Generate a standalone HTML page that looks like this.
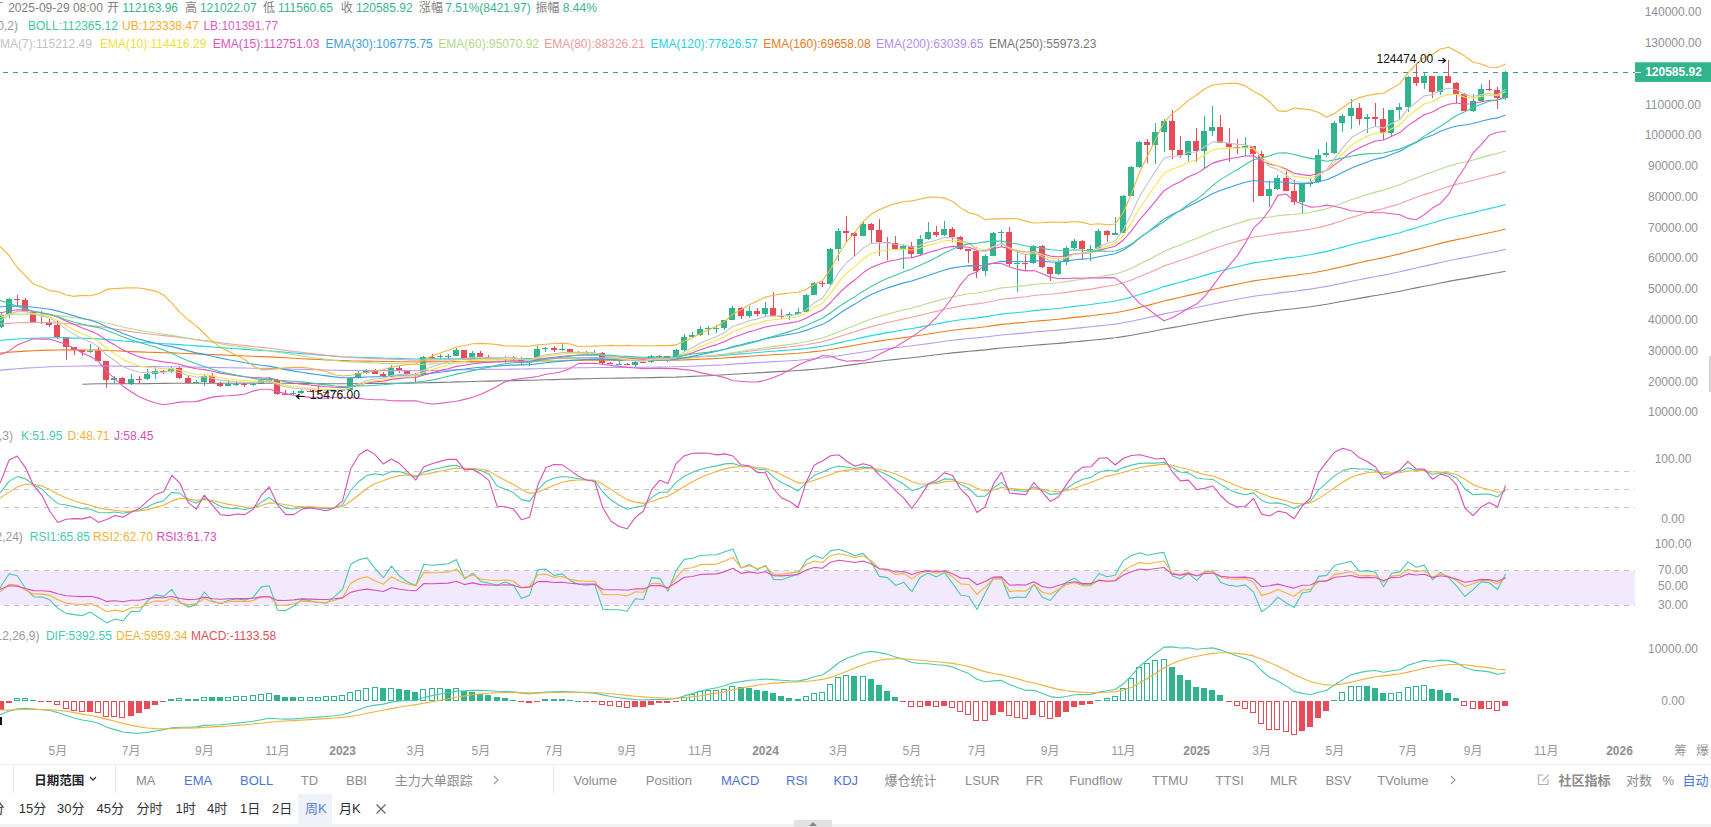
<!DOCTYPE html>
<html><head><meta charset="utf-8"><title>chart</title>
<style>
html,body{margin:0;padding:0;background:#fff;}
body{width:1711px;height:827px;overflow:hidden;position:relative;font-family:"Liberation Sans","Noto Sans CJK SC",sans-serif;}
svg text{font-family:"Liberation Sans","Noto Sans CJK SC",sans-serif;}
span{position:absolute;white-space:nowrap;font-size:12px;line-height:14px;}
.bar{position:absolute;}
</style></head><body>
<svg width="1711" height="827" viewBox="0 0 1711 827" style="position:absolute;left:0;top:0">
<defs><clipPath id="cm"><rect x="0" y="0" width="1636" height="428"/></clipPath><clipPath id="ck"><rect x="0" y="440" width="1636" height="92"/></clipPath><clipPath id="cr"><rect x="0" y="540" width="1636" height="92"/></clipPath><clipPath id="cd"><rect x="0" y="640" width="1636" height="95"/></clipPath></defs>
<g clip-path="url(#cm)">
<rect x="1" y="313" width="1" height="15" fill="#31b48d"/>
<rect x="-2" y="315" width="6" height="12" fill="#31b48d"/>
<rect x="9" y="298" width="1" height="20" fill="#31b48d"/>
<rect x="6" y="299" width="6" height="16" fill="#31b48d"/>
<rect x="17" y="295" width="1" height="11" fill="#e84b58"/>
<rect x="14" y="299" width="6" height="1" fill="#e84b58"/>
<rect x="25" y="298" width="1" height="14" fill="#e84b58"/>
<rect x="22" y="300" width="6" height="12" fill="#e84b58"/>
<rect x="33" y="311" width="1" height="11" fill="#e84b58"/>
<rect x="30" y="312" width="6" height="10" fill="#e84b58"/>
<rect x="41" y="311" width="1" height="13" fill="#e84b58"/>
<rect x="38" y="322" width="6" height="1" fill="#e84b58"/>
<rect x="49" y="319" width="1" height="8" fill="#e84b58"/>
<rect x="46" y="322" width="6" height="3" fill="#e84b58"/>
<rect x="57" y="320" width="1" height="19" fill="#e84b58"/>
<rect x="54" y="325" width="6" height="12" fill="#e84b58"/>
<rect x="66" y="337" width="1" height="23" fill="#e84b58"/>
<rect x="63" y="337" width="6" height="10" fill="#e84b58"/>
<rect x="74" y="347" width="1" height="8" fill="#e84b58"/>
<rect x="71" y="347" width="6" height="3" fill="#e84b58"/>
<rect x="82" y="350" width="1" height="6" fill="#e84b58"/>
<rect x="79" y="350" width="6" height="2" fill="#e84b58"/>
<rect x="90" y="344" width="1" height="9" fill="#31b48d"/>
<rect x="87" y="351" width="6" height="1" fill="#31b48d"/>
<rect x="98" y="346" width="1" height="15" fill="#e84b58"/>
<rect x="95" y="351" width="6" height="10" fill="#e84b58"/>
<rect x="106" y="361" width="1" height="27" fill="#e84b58"/>
<rect x="103" y="361" width="6" height="19" fill="#e84b58"/>
<rect x="114" y="376" width="1" height="7" fill="#31b48d"/>
<rect x="111" y="378" width="6" height="2" fill="#31b48d"/>
<rect x="122" y="377" width="1" height="7" fill="#e84b58"/>
<rect x="119" y="378" width="6" height="6" fill="#e84b58"/>
<rect x="131" y="374" width="1" height="11" fill="#31b48d"/>
<rect x="128" y="379" width="6" height="5" fill="#31b48d"/>
<rect x="139" y="376" width="1" height="8" fill="#e84b58"/>
<rect x="136" y="379" width="6" height="1" fill="#e84b58"/>
<rect x="147" y="369" width="1" height="11" fill="#31b48d"/>
<rect x="144" y="374" width="6" height="5" fill="#31b48d"/>
<rect x="155" y="367" width="1" height="12" fill="#31b48d"/>
<rect x="152" y="371" width="6" height="3" fill="#31b48d"/>
<rect x="163" y="370" width="1" height="4" fill="#e84b58"/>
<rect x="160" y="371" width="6" height="1" fill="#e84b58"/>
<rect x="171" y="367" width="1" height="6" fill="#31b48d"/>
<rect x="168" y="368" width="6" height="4" fill="#31b48d"/>
<rect x="179" y="367" width="1" height="12" fill="#e84b58"/>
<rect x="176" y="368" width="6" height="10" fill="#e84b58"/>
<rect x="188" y="376" width="1" height="7" fill="#e84b58"/>
<rect x="185" y="378" width="6" height="5" fill="#e84b58"/>
<rect x="196" y="380" width="1" height="3" fill="#31b48d"/>
<rect x="193" y="382" width="6" height="1" fill="#31b48d"/>
<rect x="204" y="375" width="1" height="11" fill="#31b48d"/>
<rect x="201" y="376" width="6" height="6" fill="#31b48d"/>
<rect x="212" y="373" width="1" height="10" fill="#e84b58"/>
<rect x="209" y="376" width="6" height="7" fill="#e84b58"/>
<rect x="220" y="382" width="1" height="5" fill="#e84b58"/>
<rect x="217" y="383" width="6" height="3" fill="#e84b58"/>
<rect x="228" y="380" width="1" height="6" fill="#31b48d"/>
<rect x="225" y="384" width="6" height="2" fill="#31b48d"/>
<rect x="236" y="381" width="1" height="5" fill="#31b48d"/>
<rect x="233" y="384" width="6" height="1" fill="#31b48d"/>
<rect x="244" y="383" width="1" height="4" fill="#e84b58"/>
<rect x="241" y="384" width="6" height="1" fill="#e84b58"/>
<rect x="253" y="383" width="1" height="3" fill="#31b48d"/>
<rect x="250" y="384" width="6" height="1" fill="#31b48d"/>
<rect x="261" y="378" width="1" height="6" fill="#31b48d"/>
<rect x="258" y="380" width="6" height="4" fill="#31b48d"/>
<rect x="269" y="377" width="1" height="4" fill="#31b48d"/>
<rect x="266" y="380" width="6" height="1" fill="#31b48d"/>
<rect x="277" y="379" width="1" height="16" fill="#e84b58"/>
<rect x="274" y="380" width="6" height="14" fill="#e84b58"/>
<rect x="285" y="390" width="1" height="5" fill="#e84b58"/>
<rect x="282" y="394" width="6" height="1" fill="#e84b58"/>
<rect x="293" y="391" width="1" height="4" fill="#31b48d"/>
<rect x="290" y="393" width="6" height="1" fill="#31b48d"/>
<rect x="301" y="390" width="1" height="4" fill="#31b48d"/>
<rect x="298" y="391" width="6" height="2" fill="#31b48d"/>
<rect x="310" y="390" width="1" height="2" fill="#e84b58"/>
<rect x="307" y="391" width="6" height="1" fill="#e84b58"/>
<rect x="318" y="386" width="1" height="7" fill="#e84b58"/>
<rect x="315" y="391" width="6" height="1" fill="#e84b58"/>
<rect x="326" y="391" width="1" height="3" fill="#e84b58"/>
<rect x="323" y="392" width="6" height="1" fill="#e84b58"/>
<rect x="334" y="391" width="1" height="3" fill="#31b48d"/>
<rect x="331" y="391" width="6" height="1" fill="#31b48d"/>
<rect x="342" y="389" width="1" height="3" fill="#31b48d"/>
<rect x="339" y="390" width="6" height="1" fill="#31b48d"/>
<rect x="350" y="377" width="1" height="13" fill="#31b48d"/>
<rect x="347" y="378" width="6" height="12" fill="#31b48d"/>
<rect x="358" y="371" width="1" height="8" fill="#31b48d"/>
<rect x="355" y="373" width="6" height="5" fill="#31b48d"/>
<rect x="366" y="369" width="1" height="5" fill="#31b48d"/>
<rect x="363" y="370" width="6" height="3" fill="#31b48d"/>
<rect x="375" y="369" width="1" height="5" fill="#e84b58"/>
<rect x="372" y="370" width="6" height="4" fill="#e84b58"/>
<rect x="383" y="372" width="1" height="5" fill="#e84b58"/>
<rect x="380" y="374" width="6" height="2" fill="#e84b58"/>
<rect x="391" y="365" width="1" height="12" fill="#31b48d"/>
<rect x="388" y="368" width="6" height="8" fill="#31b48d"/>
<rect x="399" y="366" width="1" height="7" fill="#e84b58"/>
<rect x="396" y="368" width="6" height="3" fill="#e84b58"/>
<rect x="407" y="370" width="1" height="4" fill="#e84b58"/>
<rect x="404" y="371" width="6" height="3" fill="#e84b58"/>
<rect x="415" y="373" width="1" height="9" fill="#e84b58"/>
<rect x="412" y="374" width="6" height="1" fill="#e84b58"/>
<rect x="423" y="356" width="1" height="19" fill="#31b48d"/>
<rect x="420" y="357" width="6" height="18" fill="#31b48d"/>
<rect x="432" y="354" width="1" height="5" fill="#e84b58"/>
<rect x="429" y="357" width="6" height="1" fill="#e84b58"/>
<rect x="440" y="354" width="1" height="5" fill="#31b48d"/>
<rect x="437" y="356" width="6" height="1" fill="#31b48d"/>
<rect x="448" y="354" width="1" height="6" fill="#31b48d"/>
<rect x="445" y="356" width="6" height="1" fill="#31b48d"/>
<rect x="456" y="348" width="1" height="8" fill="#31b48d"/>
<rect x="453" y="350" width="6" height="6" fill="#31b48d"/>
<rect x="464" y="350" width="1" height="8" fill="#e84b58"/>
<rect x="461" y="350" width="6" height="8" fill="#e84b58"/>
<rect x="472" y="351" width="1" height="7" fill="#31b48d"/>
<rect x="469" y="353" width="6" height="5" fill="#31b48d"/>
<rect x="480" y="351" width="1" height="6" fill="#e84b58"/>
<rect x="477" y="353" width="6" height="4" fill="#e84b58"/>
<rect x="488" y="355" width="1" height="4" fill="#e84b58"/>
<rect x="485" y="357" width="6" height="1" fill="#e84b58"/>
<rect x="497" y="357" width="1" height="3" fill="#e84b58"/>
<rect x="494" y="358" width="6" height="1" fill="#e84b58"/>
<rect x="505" y="356" width="1" height="7" fill="#31b48d"/>
<rect x="502" y="357" width="6" height="1" fill="#31b48d"/>
<rect x="513" y="356" width="1" height="4" fill="#e84b58"/>
<rect x="510" y="357" width="6" height="1" fill="#e84b58"/>
<rect x="521" y="357" width="1" height="8" fill="#e84b58"/>
<rect x="518" y="358" width="6" height="5" fill="#e84b58"/>
<rect x="529" y="361" width="1" height="5" fill="#31b48d"/>
<rect x="526" y="362" width="6" height="1" fill="#31b48d"/>
<rect x="537" y="346" width="1" height="16" fill="#31b48d"/>
<rect x="534" y="349" width="6" height="13" fill="#31b48d"/>
<rect x="545" y="347" width="1" height="5" fill="#31b48d"/>
<rect x="542" y="348" width="6" height="1" fill="#31b48d"/>
<rect x="554" y="346" width="1" height="6" fill="#e84b58"/>
<rect x="551" y="348" width="6" height="2" fill="#e84b58"/>
<rect x="562" y="344" width="1" height="7" fill="#31b48d"/>
<rect x="559" y="349" width="6" height="1" fill="#31b48d"/>
<rect x="570" y="349" width="1" height="4" fill="#e84b58"/>
<rect x="567" y="349" width="6" height="3" fill="#e84b58"/>
<rect x="578" y="351" width="1" height="3" fill="#e84b58"/>
<rect x="575" y="352" width="6" height="1" fill="#e84b58"/>
<rect x="586" y="351" width="1" height="2" fill="#e84b58"/>
<rect x="583" y="353" width="6" height="1" fill="#e84b58"/>
<rect x="594" y="350" width="1" height="4" fill="#31b48d"/>
<rect x="591" y="353" width="6" height="1" fill="#31b48d"/>
<rect x="602" y="352" width="1" height="13" fill="#e84b58"/>
<rect x="599" y="353" width="6" height="10" fill="#e84b58"/>
<rect x="610" y="362" width="1" height="2" fill="#e84b58"/>
<rect x="607" y="363" width="6" height="1" fill="#e84b58"/>
<rect x="619" y="357" width="1" height="8" fill="#31b48d"/>
<rect x="616" y="364" width="6" height="1" fill="#31b48d"/>
<rect x="627" y="363" width="1" height="2" fill="#e84b58"/>
<rect x="624" y="364" width="6" height="1" fill="#e84b58"/>
<rect x="635" y="361" width="1" height="6" fill="#31b48d"/>
<rect x="632" y="362" width="6" height="3" fill="#31b48d"/>
<rect x="643" y="361" width="1" height="2" fill="#e84b58"/>
<rect x="640" y="362" width="6" height="1" fill="#e84b58"/>
<rect x="651" y="355" width="1" height="8" fill="#31b48d"/>
<rect x="648" y="356" width="6" height="6" fill="#31b48d"/>
<rect x="659" y="355" width="1" height="2" fill="#e84b58"/>
<rect x="656" y="356" width="6" height="1" fill="#e84b58"/>
<rect x="667" y="356" width="1" height="6" fill="#e84b58"/>
<rect x="664" y="356" width="6" height="4" fill="#e84b58"/>
<rect x="676" y="349" width="1" height="11" fill="#31b48d"/>
<rect x="673" y="350" width="6" height="10" fill="#31b48d"/>
<rect x="684" y="334" width="1" height="17" fill="#31b48d"/>
<rect x="681" y="337" width="6" height="13" fill="#31b48d"/>
<rect x="692" y="332" width="1" height="5" fill="#31b48d"/>
<rect x="689" y="335" width="6" height="2" fill="#31b48d"/>
<rect x="700" y="326" width="1" height="10" fill="#31b48d"/>
<rect x="697" y="329" width="6" height="6" fill="#31b48d"/>
<rect x="708" y="326" width="1" height="9" fill="#31b48d"/>
<rect x="705" y="328" width="6" height="1" fill="#31b48d"/>
<rect x="716" y="325" width="1" height="8" fill="#31b48d"/>
<rect x="713" y="328" width="6" height="1" fill="#31b48d"/>
<rect x="724" y="320" width="1" height="10" fill="#31b48d"/>
<rect x="721" y="320" width="6" height="8" fill="#31b48d"/>
<rect x="732" y="306" width="1" height="14" fill="#31b48d"/>
<rect x="729" y="308" width="6" height="12" fill="#31b48d"/>
<rect x="741" y="307" width="1" height="12" fill="#e84b58"/>
<rect x="738" y="308" width="6" height="8" fill="#e84b58"/>
<rect x="749" y="306" width="1" height="12" fill="#31b48d"/>
<rect x="746" y="311" width="6" height="5" fill="#31b48d"/>
<rect x="757" y="308" width="1" height="8" fill="#e84b58"/>
<rect x="754" y="311" width="6" height="3" fill="#e84b58"/>
<rect x="765" y="302" width="1" height="15" fill="#31b48d"/>
<rect x="762" y="308" width="6" height="6" fill="#31b48d"/>
<rect x="773" y="292" width="1" height="24" fill="#e84b58"/>
<rect x="770" y="308" width="6" height="8" fill="#e84b58"/>
<rect x="781" y="309" width="1" height="10" fill="#e84b58"/>
<rect x="778" y="316" width="6" height="1" fill="#e84b58"/>
<rect x="789" y="312" width="1" height="8" fill="#31b48d"/>
<rect x="786" y="314" width="6" height="2" fill="#31b48d"/>
<rect x="798" y="308" width="1" height="6" fill="#31b48d"/>
<rect x="795" y="312" width="6" height="2" fill="#31b48d"/>
<rect x="806" y="294" width="1" height="18" fill="#31b48d"/>
<rect x="803" y="295" width="6" height="17" fill="#31b48d"/>
<rect x="814" y="282" width="1" height="13" fill="#31b48d"/>
<rect x="811" y="283" width="6" height="12" fill="#31b48d"/>
<rect x="822" y="280" width="1" height="7" fill="#e84b58"/>
<rect x="819" y="283" width="6" height="1" fill="#e84b58"/>
<rect x="830" y="248" width="1" height="37" fill="#31b48d"/>
<rect x="827" y="249" width="6" height="35" fill="#31b48d"/>
<rect x="838" y="228" width="1" height="33" fill="#31b48d"/>
<rect x="835" y="231" width="6" height="18" fill="#31b48d"/>
<rect x="846" y="216" width="1" height="26" fill="#e84b58"/>
<rect x="843" y="231" width="6" height="2" fill="#e84b58"/>
<rect x="854" y="232" width="1" height="24" fill="#e84b58"/>
<rect x="851" y="233" width="6" height="3" fill="#e84b58"/>
<rect x="863" y="222" width="1" height="14" fill="#31b48d"/>
<rect x="860" y="224" width="6" height="12" fill="#31b48d"/>
<rect x="871" y="223" width="1" height="20" fill="#e84b58"/>
<rect x="868" y="224" width="6" height="6" fill="#e84b58"/>
<rect x="879" y="219" width="1" height="37" fill="#e84b58"/>
<rect x="876" y="230" width="6" height="12" fill="#e84b58"/>
<rect x="887" y="237" width="1" height="23" fill="#e84b58"/>
<rect x="884" y="242" width="6" height="1" fill="#e84b58"/>
<rect x="895" y="236" width="1" height="14" fill="#e84b58"/>
<rect x="892" y="243" width="6" height="6" fill="#e84b58"/>
<rect x="903" y="244" width="1" height="25" fill="#31b48d"/>
<rect x="900" y="246" width="6" height="3" fill="#31b48d"/>
<rect x="911" y="242" width="1" height="16" fill="#e84b58"/>
<rect x="908" y="246" width="6" height="8" fill="#e84b58"/>
<rect x="920" y="235" width="1" height="20" fill="#31b48d"/>
<rect x="917" y="239" width="6" height="15" fill="#31b48d"/>
<rect x="928" y="222" width="1" height="18" fill="#31b48d"/>
<rect x="925" y="232" width="6" height="7" fill="#31b48d"/>
<rect x="936" y="226" width="1" height="11" fill="#e84b58"/>
<rect x="933" y="232" width="6" height="3" fill="#e84b58"/>
<rect x="944" y="221" width="1" height="15" fill="#31b48d"/>
<rect x="941" y="229" width="6" height="6" fill="#31b48d"/>
<rect x="952" y="227" width="1" height="15" fill="#e84b58"/>
<rect x="949" y="229" width="6" height="8" fill="#e84b58"/>
<rect x="960" y="236" width="1" height="14" fill="#e84b58"/>
<rect x="957" y="237" width="6" height="12" fill="#e84b58"/>
<rect x="968" y="249" width="1" height="14" fill="#e84b58"/>
<rect x="965" y="249" width="6" height="2" fill="#e84b58"/>
<rect x="976" y="247" width="1" height="31" fill="#e84b58"/>
<rect x="973" y="251" width="6" height="20" fill="#e84b58"/>
<rect x="985" y="254" width="1" height="22" fill="#31b48d"/>
<rect x="982" y="256" width="6" height="15" fill="#31b48d"/>
<rect x="993" y="232" width="1" height="24" fill="#31b48d"/>
<rect x="990" y="233" width="6" height="23" fill="#31b48d"/>
<rect x="1001" y="230" width="1" height="17" fill="#31b48d"/>
<rect x="998" y="232" width="6" height="1" fill="#31b48d"/>
<rect x="1009" y="227" width="1" height="39" fill="#e84b58"/>
<rect x="1006" y="232" width="6" height="32" fill="#e84b58"/>
<rect x="1017" y="251" width="1" height="41" fill="#31b48d"/>
<rect x="1014" y="263" width="6" height="1" fill="#31b48d"/>
<rect x="1025" y="254" width="1" height="17" fill="#e84b58"/>
<rect x="1022" y="263" width="6" height="1" fill="#e84b58"/>
<rect x="1033" y="245" width="1" height="19" fill="#31b48d"/>
<rect x="1030" y="246" width="6" height="17" fill="#31b48d"/>
<rect x="1042" y="245" width="1" height="23" fill="#e84b58"/>
<rect x="1039" y="246" width="6" height="21" fill="#e84b58"/>
<rect x="1050" y="267" width="1" height="14" fill="#e84b58"/>
<rect x="1047" y="267" width="6" height="7" fill="#e84b58"/>
<rect x="1058" y="258" width="1" height="17" fill="#31b48d"/>
<rect x="1055" y="262" width="6" height="12" fill="#31b48d"/>
<rect x="1066" y="246" width="1" height="19" fill="#31b48d"/>
<rect x="1063" y="248" width="6" height="14" fill="#31b48d"/>
<rect x="1074" y="239" width="1" height="10" fill="#31b48d"/>
<rect x="1071" y="241" width="6" height="7" fill="#31b48d"/>
<rect x="1082" y="240" width="1" height="19" fill="#e84b58"/>
<rect x="1079" y="241" width="6" height="8" fill="#e84b58"/>
<rect x="1090" y="245" width="1" height="16" fill="#31b48d"/>
<rect x="1087" y="249" width="6" height="1" fill="#31b48d"/>
<rect x="1098" y="229" width="1" height="21" fill="#31b48d"/>
<rect x="1095" y="231" width="6" height="18" fill="#31b48d"/>
<rect x="1107" y="230" width="1" height="12" fill="#e84b58"/>
<rect x="1104" y="231" width="6" height="4" fill="#e84b58"/>
<rect x="1115" y="217" width="1" height="18" fill="#31b48d"/>
<rect x="1112" y="233" width="6" height="2" fill="#31b48d"/>
<rect x="1123" y="195" width="1" height="38" fill="#31b48d"/>
<rect x="1120" y="196" width="6" height="37" fill="#31b48d"/>
<rect x="1131" y="166" width="1" height="30" fill="#31b48d"/>
<rect x="1128" y="167" width="6" height="29" fill="#31b48d"/>
<rect x="1139" y="141" width="1" height="27" fill="#31b48d"/>
<rect x="1136" y="142" width="6" height="25" fill="#31b48d"/>
<rect x="1147" y="139" width="1" height="24" fill="#e84b58"/>
<rect x="1144" y="142" width="6" height="3" fill="#e84b58"/>
<rect x="1155" y="123" width="1" height="41" fill="#31b48d"/>
<rect x="1152" y="132" width="6" height="13" fill="#31b48d"/>
<rect x="1164" y="119" width="1" height="33" fill="#31b48d"/>
<rect x="1161" y="121" width="6" height="11" fill="#31b48d"/>
<rect x="1172" y="110" width="1" height="49" fill="#e84b58"/>
<rect x="1169" y="121" width="6" height="29" fill="#e84b58"/>
<rect x="1180" y="136" width="1" height="22" fill="#e84b58"/>
<rect x="1177" y="150" width="6" height="5" fill="#e84b58"/>
<rect x="1188" y="141" width="1" height="20" fill="#31b48d"/>
<rect x="1185" y="141" width="6" height="14" fill="#31b48d"/>
<rect x="1196" y="128" width="1" height="34" fill="#e84b58"/>
<rect x="1193" y="141" width="6" height="10" fill="#e84b58"/>
<rect x="1204" y="116" width="1" height="52" fill="#31b48d"/>
<rect x="1201" y="131" width="6" height="20" fill="#31b48d"/>
<rect x="1212" y="106" width="1" height="30" fill="#31b48d"/>
<rect x="1209" y="127" width="6" height="4" fill="#31b48d"/>
<rect x="1220" y="115" width="1" height="28" fill="#e84b58"/>
<rect x="1217" y="127" width="6" height="16" fill="#e84b58"/>
<rect x="1229" y="128" width="1" height="34" fill="#e84b58"/>
<rect x="1226" y="143" width="6" height="4" fill="#e84b58"/>
<rect x="1237" y="139" width="1" height="15" fill="#e84b58"/>
<rect x="1234" y="147" width="6" height="1" fill="#e84b58"/>
<rect x="1245" y="137" width="1" height="19" fill="#31b48d"/>
<rect x="1242" y="146" width="6" height="2" fill="#31b48d"/>
<rect x="1253" y="146" width="1" height="56" fill="#e84b58"/>
<rect x="1250" y="146" width="6" height="8" fill="#e84b58"/>
<rect x="1261" y="151" width="1" height="45" fill="#e84b58"/>
<rect x="1258" y="154" width="6" height="42" fill="#e84b58"/>
<rect x="1269" y="181" width="1" height="26" fill="#31b48d"/>
<rect x="1266" y="189" width="6" height="7" fill="#31b48d"/>
<rect x="1277" y="175" width="1" height="15" fill="#31b48d"/>
<rect x="1274" y="178" width="6" height="11" fill="#31b48d"/>
<rect x="1286" y="171" width="1" height="20" fill="#e84b58"/>
<rect x="1283" y="178" width="6" height="13" fill="#e84b58"/>
<rect x="1294" y="180" width="1" height="25" fill="#e84b58"/>
<rect x="1291" y="191" width="6" height="11" fill="#e84b58"/>
<rect x="1302" y="183" width="1" height="30" fill="#31b48d"/>
<rect x="1299" y="184" width="6" height="18" fill="#31b48d"/>
<rect x="1310" y="178" width="1" height="9" fill="#31b48d"/>
<rect x="1307" y="182" width="6" height="2" fill="#31b48d"/>
<rect x="1318" y="149" width="1" height="34" fill="#31b48d"/>
<rect x="1315" y="155" width="6" height="27" fill="#31b48d"/>
<rect x="1326" y="142" width="1" height="15" fill="#31b48d"/>
<rect x="1323" y="153" width="6" height="2" fill="#31b48d"/>
<rect x="1334" y="121" width="1" height="33" fill="#31b48d"/>
<rect x="1331" y="123" width="6" height="30" fill="#31b48d"/>
<rect x="1342" y="114" width="1" height="18" fill="#31b48d"/>
<rect x="1339" y="116" width="6" height="7" fill="#31b48d"/>
<rect x="1351" y="99" width="1" height="30" fill="#31b48d"/>
<rect x="1348" y="108" width="6" height="8" fill="#31b48d"/>
<rect x="1359" y="103" width="1" height="22" fill="#e84b58"/>
<rect x="1356" y="108" width="6" height="11" fill="#e84b58"/>
<rect x="1367" y="114" width="1" height="19" fill="#31b48d"/>
<rect x="1364" y="117" width="6" height="2" fill="#31b48d"/>
<rect x="1375" y="103" width="1" height="23" fill="#e84b58"/>
<rect x="1372" y="117" width="6" height="2" fill="#e84b58"/>
<rect x="1383" y="108" width="1" height="32" fill="#e84b58"/>
<rect x="1380" y="119" width="6" height="14" fill="#e84b58"/>
<rect x="1391" y="110" width="1" height="26" fill="#31b48d"/>
<rect x="1388" y="110" width="6" height="23" fill="#31b48d"/>
<rect x="1399" y="103" width="1" height="17" fill="#31b48d"/>
<rect x="1396" y="107" width="6" height="3" fill="#31b48d"/>
<rect x="1408" y="76" width="1" height="36" fill="#31b48d"/>
<rect x="1405" y="77" width="6" height="30" fill="#31b48d"/>
<rect x="1416" y="63" width="1" height="23" fill="#e84b58"/>
<rect x="1413" y="77" width="6" height="6" fill="#e84b58"/>
<rect x="1424" y="72" width="1" height="17" fill="#31b48d"/>
<rect x="1421" y="76" width="6" height="7" fill="#31b48d"/>
<rect x="1432" y="76" width="1" height="22" fill="#e84b58"/>
<rect x="1429" y="76" width="6" height="16" fill="#e84b58"/>
<rect x="1440" y="76" width="1" height="19" fill="#31b48d"/>
<rect x="1437" y="76" width="6" height="16" fill="#31b48d"/>
<rect x="1448" y="60" width="1" height="23" fill="#e84b58"/>
<rect x="1445" y="76" width="6" height="7" fill="#e84b58"/>
<rect x="1456" y="82" width="1" height="21" fill="#e84b58"/>
<rect x="1453" y="83" width="6" height="11" fill="#e84b58"/>
<rect x="1464" y="93" width="1" height="18" fill="#e84b58"/>
<rect x="1461" y="94" width="6" height="17" fill="#e84b58"/>
<rect x="1473" y="94" width="1" height="18" fill="#31b48d"/>
<rect x="1470" y="101" width="6" height="10" fill="#31b48d"/>
<rect x="1481" y="84" width="1" height="18" fill="#31b48d"/>
<rect x="1478" y="89" width="6" height="12" fill="#31b48d"/>
<rect x="1489" y="80" width="1" height="11" fill="#e84b58"/>
<rect x="1486" y="89" width="6" height="1" fill="#e84b58"/>
<rect x="1497" y="87" width="1" height="22" fill="#e84b58"/>
<rect x="1494" y="90" width="6" height="8" fill="#e84b58"/>
<rect x="1505" y="71" width="1" height="29" fill="#31b48d"/>
<rect x="1502" y="72" width="6" height="26" fill="#31b48d"/>
</g>
<g clip-path="url(#cm)" fill="none" stroke-width="1.1" stroke-linejoin="round">
<polyline stroke="#7d7d7d" points="82.3,384.3 90.5,384.0 98.6,383.8 106.7,383.8 114.9,383.7 123.0,383.7 131.1,383.7 139.3,383.7 147.4,383.6 155.5,383.5 163.7,383.4 171.8,383.3 179.9,383.2 188.1,383.2 196.2,383.2 204.3,383.2 212.5,383.2 220.6,383.2 228.7,383.2 236.9,383.2 245.0,383.2 253.1,383.2 261.3,383.2 269.4,383.1 277.5,383.2 285.7,383.3 293.8,383.4 301.9,383.4 310.1,383.5 318.2,383.6 326.3,383.7 334.5,383.7 342.6,383.8 350.7,383.7 358.9,383.6 367.0,383.5 375.1,383.4 383.3,383.4 391.4,383.3 399.5,383.2 407.6,383.1 415.8,383.0 423.9,382.8 432.0,382.6 440.2,382.4 448.3,382.2 456.4,381.9 464.6,381.7 472.7,381.5 480.8,381.3 489.0,381.1 497.1,380.9 505.2,380.8 513.4,380.6 521.5,380.4 529.6,380.3 537.8,380.0 545.9,379.8 554.0,379.6 562.2,379.3 570.3,379.1 578.4,378.9 586.6,378.7 594.7,378.5 602.8,378.3 611.0,378.2 619.1,378.1 627.2,378.0 635.4,377.9 643.5,377.8 651.6,377.6 659.8,377.4 667.9,377.3 676.0,377.1 684.2,376.7 692.3,376.4 700.4,376.0 708.6,375.7 716.7,375.3 724.8,374.8 733.0,374.3 741.1,373.8 749.2,373.3 757.4,372.9 765.5,372.4 773.6,371.9 781.8,371.4 789.9,371.0 798.0,370.5 806.2,369.9 814.3,369.2 822.4,368.5 830.6,367.6 838.7,366.5 846.8,365.4 855.0,364.4 863.1,363.3 871.2,362.2 879.4,361.3 887.5,360.3 895.6,359.4 903.8,358.5 911.9,357.7 920.0,356.8 928.2,355.8 936.3,354.8 944.4,353.8 952.6,352.9 960.7,352.1 968.8,351.2 977.0,350.6 985.1,349.9 993.2,348.9 1001.4,348.0 1009.5,347.3 1017.6,346.7 1025.8,346.0 1033.9,345.2 1042.0,344.6 1050.2,344.0 1058.3,343.4 1066.4,342.6 1074.6,341.8 1082.7,341.1 1090.8,340.3 1099.0,339.5 1107.1,338.6 1115.2,337.8 1123.4,336.6 1131.5,335.3 1139.6,333.8 1147.8,332.3 1155.9,330.7 1164.0,329.0 1172.2,327.6 1180.3,326.2 1188.4,324.7 1196.6,323.3 1204.7,321.8 1212.8,320.3 1220.9,318.8 1229.1,317.5 1237.2,316.1 1245.3,314.8 1253.5,313.5 1261.6,312.5 1269.7,311.6 1277.9,310.5 1286.0,309.5 1294.1,308.7 1302.3,307.7 1310.4,306.7 1318.5,305.5 1326.7,304.3 1334.8,302.8 1342.9,301.3 1351.1,299.8 1359.2,298.4 1367.3,296.9 1375.5,295.5 1383.6,294.2 1391.7,292.7 1399.9,291.2 1408.0,289.5 1416.1,287.9 1424.3,286.2 1432.4,284.7 1440.5,283.0 1448.7,281.4 1456.8,279.9 1464.9,278.6 1473.1,277.1 1481.2,275.6 1489.3,274.2 1497.5,272.8 1505.6,271.2"/>
<polyline stroke="#b89cf2" points="-7.1,370.6 1.0,370.1 9.1,369.4 17.3,368.7 25.4,368.1 33.5,367.7 41.7,367.2 49.8,366.8 57.9,366.5 66.1,366.3 74.2,366.2 82.3,366.0 90.5,365.9 98.6,365.8 106.7,366.0 114.9,366.1 123.0,366.3 131.1,366.4 139.3,366.5 147.4,366.6 155.5,366.6 163.7,366.7 171.8,366.7 179.9,366.8 188.1,367.0 196.2,367.1 204.3,367.2 212.5,367.4 220.6,367.6 228.7,367.7 236.9,367.9 245.0,368.0 253.1,368.2 261.3,368.3 269.4,368.4 277.5,368.7 285.7,368.9 293.8,369.2 301.9,369.4 310.1,369.6 318.2,369.8 326.3,370.0 334.5,370.3 342.6,370.4 350.7,370.5 358.9,370.5 367.0,370.5 375.1,370.6 383.3,370.6 391.4,370.6 399.5,370.6 407.6,370.6 415.8,370.7 423.9,370.6 432.0,370.4 440.2,370.3 448.3,370.1 456.4,369.9 464.6,369.8 472.7,369.6 480.8,369.5 489.0,369.4 497.1,369.3 505.2,369.2 513.4,369.1 521.5,369.0 529.6,368.9 537.8,368.7 545.9,368.5 554.0,368.3 562.2,368.2 570.3,368.0 578.4,367.8 586.6,367.7 594.7,367.5 602.8,367.5 611.0,367.5 619.1,367.4 627.2,367.4 635.4,367.3 643.5,367.3 651.6,367.2 659.8,367.1 667.9,367.0 676.0,366.8 684.2,366.5 692.3,366.2 700.4,365.9 708.6,365.5 716.7,365.1 724.8,364.7 733.0,364.1 741.1,363.6 749.2,363.1 757.4,362.6 765.5,362.1 773.6,361.6 781.8,361.2 789.9,360.7 798.0,360.2 806.2,359.5 814.3,358.8 822.4,358.0 830.6,357.0 838.7,355.7 846.8,354.5 855.0,353.3 863.1,352.0 871.2,350.8 879.4,349.7 887.5,348.6 895.6,347.7 903.8,346.7 911.9,345.7 920.0,344.7 928.2,343.6 936.3,342.5 944.4,341.3 952.6,340.3 960.7,339.4 968.8,338.5 977.0,337.9 985.1,337.0 993.2,336.0 1001.4,335.0 1009.5,334.3 1017.6,333.6 1025.8,332.9 1033.9,332.0 1042.0,331.4 1050.2,330.8 1058.3,330.1 1066.4,329.3 1074.6,328.4 1082.7,327.6 1090.8,326.8 1099.0,325.9 1107.1,325.0 1115.2,324.1 1123.4,322.8 1131.5,321.2 1139.6,319.5 1147.8,317.7 1155.9,315.9 1164.0,313.9 1172.2,312.3 1180.3,310.7 1188.4,309.1 1196.6,307.5 1204.7,305.7 1212.8,304.0 1220.9,302.4 1229.1,300.8 1237.2,299.3 1245.3,297.8 1253.5,296.3 1261.6,295.3 1269.7,294.3 1277.9,293.1 1286.0,292.1 1294.1,291.2 1302.3,290.1 1310.4,289.1 1318.5,287.7 1326.7,286.4 1334.8,284.8 1342.9,283.1 1351.1,281.3 1359.2,279.7 1367.3,278.1 1375.5,276.5 1383.6,275.1 1391.7,273.5 1399.9,271.8 1408.0,269.9 1416.1,268.0 1424.3,266.1 1432.4,264.4 1440.5,262.5 1448.7,260.7 1456.8,259.0 1464.9,257.6 1473.1,256.0 1481.2,254.3 1489.3,252.7 1497.5,251.2 1505.6,249.4"/>
<polyline stroke="#ea7f1d" points="-7.1,353.4 1.0,353.0 9.1,352.3 17.3,351.6 25.4,351.1 33.5,350.8 41.7,350.4 49.8,350.1 57.9,350.0 66.1,349.9 74.2,349.9 82.3,350.0 90.5,350.0 98.6,350.1 106.7,350.5 114.9,350.8 123.0,351.2 131.1,351.6 139.3,351.9 147.4,352.2 155.5,352.4 163.7,352.7 171.8,352.9 179.9,353.2 188.1,353.5 196.2,353.9 204.3,354.2 212.5,354.5 220.6,354.9 228.7,355.3 236.9,355.6 245.0,356.0 253.1,356.3 261.3,356.6 269.4,356.9 277.5,357.4 285.7,357.8 293.8,358.3 301.9,358.7 310.1,359.1 318.2,359.5 326.3,359.9 334.5,360.3 342.6,360.6 350.7,360.9 358.9,361.0 367.0,361.1 375.1,361.3 383.3,361.5 391.4,361.5 399.5,361.7 407.6,361.8 415.8,362.0 423.9,361.9 432.0,361.9 440.2,361.8 448.3,361.7 456.4,361.6 464.6,361.5 472.7,361.4 480.8,361.4 489.0,361.3 497.1,361.3 505.2,361.2 513.4,361.2 521.5,361.2 529.6,361.2 537.8,361.1 545.9,360.9 554.0,360.8 562.2,360.6 570.3,360.5 578.4,360.4 586.6,360.3 594.7,360.2 602.8,360.3 611.0,360.3 619.1,360.4 627.2,360.4 635.4,360.4 643.5,360.5 651.6,360.4 659.8,360.4 667.9,360.3 676.0,360.2 684.2,359.9 692.3,359.6 700.4,359.2 708.6,358.9 716.7,358.5 724.8,358.0 733.0,357.4 741.1,356.9 749.2,356.3 757.4,355.8 765.5,355.2 773.6,354.7 781.8,354.2 789.9,353.7 798.0,353.2 806.2,352.5 814.3,351.6 822.4,350.8 830.6,349.5 838.7,348.0 846.8,346.6 855.0,345.2 863.1,343.7 871.2,342.3 879.4,341.1 887.5,339.8 895.6,338.7 903.8,337.6 911.9,336.5 920.0,335.3 928.2,334.0 936.3,332.8 944.4,331.5 952.6,330.3 960.7,329.3 968.8,328.4 977.0,327.7 985.1,326.8 993.2,325.6 1001.4,324.4 1009.5,323.7 1017.6,322.9 1025.8,322.2 1033.9,321.3 1042.0,320.6 1050.2,320.0 1058.3,319.3 1066.4,318.4 1074.6,317.4 1082.7,316.6 1090.8,315.8 1099.0,314.7 1107.1,313.7 1115.2,312.7 1123.4,311.3 1131.5,309.5 1139.6,307.4 1147.8,305.4 1155.9,303.2 1164.0,301.0 1172.2,299.1 1180.3,297.3 1188.4,295.4 1196.6,293.6 1204.7,291.6 1212.8,289.5 1220.9,287.7 1229.1,285.9 1237.2,284.2 1245.3,282.5 1253.5,280.9 1261.6,279.8 1269.7,278.7 1277.9,277.5 1286.0,276.4 1294.1,275.5 1302.3,274.3 1310.4,273.2 1318.5,271.7 1326.7,270.3 1334.8,268.4 1342.9,266.5 1351.1,264.6 1359.2,262.8 1367.3,260.9 1375.5,259.2 1383.6,257.6 1391.7,255.8 1399.9,253.9 1408.0,251.7 1416.1,249.6 1424.3,247.5 1432.4,245.5 1440.5,243.4 1448.7,241.4 1456.8,239.6 1464.9,238.0 1473.1,236.3 1481.2,234.5 1489.3,232.7 1497.5,231.0 1505.6,229.0"/>
<polyline stroke="#1fd6e4" points="-7.1,340.7 1.0,340.3 9.1,339.6 17.3,339.0 25.4,338.5 33.5,338.2 41.7,338.0 49.8,337.7 57.9,337.7 66.1,337.9 74.2,338.1 82.3,338.3 90.5,338.5 98.6,338.9 106.7,339.6 114.9,340.2 123.0,341.0 131.1,341.6 139.3,342.2 147.4,342.7 155.5,343.2 163.7,343.7 171.8,344.1 179.9,344.6 188.1,345.3 196.2,345.9 204.3,346.4 212.5,347.0 220.6,347.6 228.7,348.2 236.9,348.8 245.0,349.4 253.1,350.0 261.3,350.5 269.4,350.9 277.5,351.6 285.7,352.3 293.8,353.0 301.9,353.6 310.1,354.3 318.2,354.9 326.3,355.5 334.5,356.1 342.6,356.7 350.7,357.0 358.9,357.3 367.0,357.5 375.1,357.8 383.3,358.1 391.4,358.2 399.5,358.4 407.6,358.7 415.8,359.0 423.9,358.9 432.0,358.9 440.2,358.9 448.3,358.8 456.4,358.7 464.6,358.6 472.7,358.5 480.8,358.5 489.0,358.5 497.1,358.5 505.2,358.5 513.4,358.5 521.5,358.6 529.6,358.6 537.8,358.5 545.9,358.3 554.0,358.2 562.2,358.0 570.3,357.9 578.4,357.8 586.6,357.7 594.7,357.6 602.8,357.7 611.0,357.8 619.1,357.9 627.2,358.0 635.4,358.1 643.5,358.2 651.6,358.2 659.8,358.1 667.9,358.2 676.0,358.0 684.2,357.7 692.3,357.3 700.4,356.8 708.6,356.4 716.7,355.9 724.8,355.3 733.0,354.5 741.1,353.9 749.2,353.2 757.4,352.5 765.5,351.8 773.6,351.2 781.8,350.6 789.9,350.0 798.0,349.4 806.2,348.5 814.3,347.4 822.4,346.3 830.6,344.7 838.7,342.9 846.8,341.0 855.0,339.3 863.1,337.4 871.2,335.6 879.4,334.1 887.5,332.6 895.6,331.2 903.8,329.8 911.9,328.5 920.0,327.1 928.2,325.5 936.3,324.0 944.4,322.4 952.6,321.0 960.7,319.8 968.8,318.7 977.0,317.9 985.1,316.9 993.2,315.5 1001.4,314.1 1009.5,313.3 1017.6,312.5 1025.8,311.7 1033.9,310.6 1042.0,309.9 1050.2,309.3 1058.3,308.5 1066.4,307.5 1074.6,306.4 1082.7,305.5 1090.8,304.5 1099.0,303.3 1107.1,302.2 1115.2,301.0 1123.4,299.3 1131.5,297.1 1139.6,294.5 1147.8,292.1 1155.9,289.4 1164.0,286.6 1172.2,284.4 1180.3,282.3 1188.4,279.9 1196.6,277.8 1204.7,275.4 1212.8,272.9 1220.9,270.8 1229.1,268.7 1237.2,266.7 1245.3,264.7 1253.5,262.9 1261.6,261.8 1269.7,260.6 1277.9,259.2 1286.0,258.1 1294.1,257.2 1302.3,256.0 1310.4,254.7 1318.5,253.1 1326.7,251.4 1334.8,249.3 1342.9,247.1 1351.1,244.8 1359.2,242.7 1367.3,240.7 1375.5,238.6 1383.6,236.9 1391.7,234.8 1399.9,232.7 1408.0,230.1 1416.1,227.7 1424.3,225.2 1432.4,223.0 1440.5,220.5 1448.7,218.3 1456.8,216.2 1464.9,214.5 1473.1,212.6 1481.2,210.5 1489.3,208.6 1497.5,206.7 1505.6,204.5"/>
<polyline stroke="#f3a0a0" points="-7.1,324.2 1.0,324.0 9.1,323.4 17.3,322.8 25.4,322.6 33.5,322.5 41.7,322.5 49.8,322.6 57.9,323.0 66.1,323.6 74.2,324.2 82.3,324.9 90.5,325.6 98.6,326.4 106.7,327.8 114.9,329.0 123.0,330.4 131.1,331.6 139.3,332.8 147.4,333.8 155.5,334.7 163.7,335.6 171.8,336.4 179.9,337.4 188.1,338.5 196.2,339.6 204.3,340.5 212.5,341.6 220.6,342.7 228.7,343.7 236.9,344.7 245.0,345.6 253.1,346.6 261.3,347.4 269.4,348.2 277.5,349.3 285.7,350.4 293.8,351.5 301.9,352.4 310.1,353.4 318.2,354.4 326.3,355.3 334.5,356.2 342.6,357.0 350.7,357.5 358.9,357.9 367.0,358.2 375.1,358.6 383.3,359.0 391.4,359.3 399.5,359.5 407.6,359.9 415.8,360.3 423.9,360.2 432.0,360.1 440.2,360.0 448.3,359.9 456.4,359.7 464.6,359.6 472.7,359.5 480.8,359.4 489.0,359.3 497.1,359.3 505.2,359.3 513.4,359.2 521.5,359.3 529.6,359.4 537.8,359.2 545.9,358.9 554.0,358.7 562.2,358.4 570.3,358.3 578.4,358.1 586.6,358.0 594.7,357.9 602.8,358.0 611.0,358.1 619.1,358.3 627.2,358.4 635.4,358.5 643.5,358.6 651.6,358.6 659.8,358.5 667.9,358.5 676.0,358.3 684.2,357.8 692.3,357.3 700.4,356.6 708.6,355.9 716.7,355.2 724.8,354.3 733.0,353.2 741.1,352.3 749.2,351.2 757.4,350.3 765.5,349.3 773.6,348.4 781.8,347.6 789.9,346.8 798.0,345.9 806.2,344.7 814.3,343.1 822.4,341.7 830.6,339.4 838.7,336.7 846.8,334.2 855.0,331.8 863.1,329.1 871.2,326.6 879.4,324.5 887.5,322.5 895.6,320.7 903.8,318.9 911.9,317.3 920.0,315.3 928.2,313.3 936.3,311.4 944.4,309.3 952.6,307.6 960.7,306.1 968.8,304.8 977.0,303.9 985.1,302.7 993.2,301.0 1001.4,299.3 1009.5,298.5 1017.6,297.6 1025.8,296.7 1033.9,295.5 1042.0,294.8 1050.2,294.3 1058.3,293.5 1066.4,292.4 1074.6,291.1 1082.7,290.1 1090.8,289.1 1099.0,287.6 1107.1,286.3 1115.2,285.0 1123.4,282.8 1131.5,280.0 1139.6,276.5 1147.8,273.3 1155.9,269.8 1164.0,266.1 1172.2,263.3 1180.3,260.6 1188.4,257.7 1196.6,255.0 1204.7,252.0 1212.8,248.9 1220.9,246.3 1229.1,243.8 1237.2,241.4 1245.3,239.1 1253.5,237.0 1261.6,236.0 1269.7,234.8 1277.9,233.4 1286.0,232.4 1294.1,231.6 1302.3,230.4 1310.4,229.2 1318.5,227.4 1326.7,225.6 1334.8,223.1 1342.9,220.4 1351.1,217.6 1359.2,215.2 1367.3,212.8 1375.5,210.4 1383.6,208.5 1391.7,206.1 1399.9,203.7 1408.0,200.5 1416.1,197.6 1424.3,194.6 1432.4,192.1 1440.5,189.2 1448.7,186.6 1456.8,184.3 1464.9,182.5 1473.1,180.5 1481.2,178.2 1489.3,176.0 1497.5,174.1 1505.6,171.6"/>
<polyline stroke="#b7dc8e" points="-7.1,315.1 1.0,315.1 9.1,314.5 17.3,314.1 25.4,314.0 33.5,314.3 41.7,314.5 49.8,314.9 57.9,315.6 66.1,316.6 74.2,317.7 82.3,318.9 90.5,319.9 98.6,321.3 106.7,323.2 114.9,325.0 123.0,327.0 131.1,328.7 139.3,330.3 147.4,331.8 155.5,333.0 163.7,334.3 171.8,335.4 179.9,336.8 188.1,338.3 196.2,339.8 204.3,340.9 212.5,342.3 220.6,343.7 228.7,345.1 236.9,346.3 245.0,347.6 253.1,348.7 261.3,349.8 269.4,350.8 277.5,352.2 285.7,353.5 293.8,354.8 301.9,356.0 310.1,357.2 318.2,358.3 326.3,359.4 334.5,360.5 342.6,361.4 350.7,362.0 358.9,362.3 367.0,362.6 375.1,363.0 383.3,363.4 391.4,363.5 399.5,363.8 407.6,364.1 415.8,364.5 423.9,364.2 432.0,364.0 440.2,363.7 448.3,363.5 456.4,363.0 464.6,362.9 472.7,362.5 480.8,362.3 489.0,362.2 497.1,362.1 505.2,361.9 513.4,361.8 521.5,361.8 529.6,361.9 537.8,361.4 545.9,361.0 554.0,360.6 562.2,360.3 570.3,360.0 578.4,359.7 586.6,359.5 594.7,359.3 602.8,359.4 611.0,359.6 619.1,359.7 627.2,359.9 635.4,359.9 643.5,360.0 651.6,359.9 659.8,359.8 667.9,359.8 676.0,359.5 684.2,358.7 692.3,358.0 700.4,357.0 708.6,356.1 716.7,355.1 724.8,354.0 733.0,352.5 741.1,351.3 749.2,350.0 757.4,348.8 765.5,347.5 773.6,346.4 781.8,345.4 789.9,344.4 798.0,343.3 806.2,341.7 814.3,339.8 822.4,338.0 830.6,335.1 838.7,331.7 846.8,328.4 855.0,325.4 863.1,322.1 871.2,319.0 879.4,316.5 887.5,314.1 895.6,312.0 903.8,309.8 911.9,308.0 920.0,305.7 928.2,303.3 936.3,301.1 944.4,298.7 952.6,296.7 960.7,295.2 968.8,293.7 977.0,293.0 985.1,291.7 993.2,289.8 1001.4,287.9 1009.5,287.2 1017.6,286.4 1025.8,285.6 1033.9,284.3 1042.0,283.8 1050.2,283.5 1058.3,282.8 1066.4,281.6 1074.6,280.3 1082.7,279.3 1090.8,278.3 1099.0,276.8 1107.1,275.4 1115.2,274.0 1123.4,271.4 1131.5,268.0 1139.6,263.9 1147.8,260.0 1155.9,255.8 1164.0,251.4 1172.2,248.0 1180.3,245.0 1188.4,241.6 1196.6,238.6 1204.7,235.1 1212.8,231.6 1220.9,228.7 1229.1,226.0 1237.2,223.4 1245.3,220.9 1253.5,218.7 1261.6,217.9 1269.7,217.0 1277.9,215.7 1286.0,214.9 1294.1,214.5 1302.3,213.5 1310.4,212.5 1318.5,210.6 1326.7,208.7 1334.8,205.9 1342.9,202.9 1351.1,199.8 1359.2,197.2 1367.3,194.5 1375.5,192.1 1383.6,190.1 1391.7,187.5 1399.9,184.8 1408.0,181.3 1416.1,178.1 1424.3,174.7 1432.4,172.0 1440.5,168.9 1448.7,166.1 1456.8,163.7 1464.9,162.0 1473.1,160.0 1481.2,157.6 1489.3,155.4 1497.5,153.5 1505.6,150.9"/>
<polyline stroke="#3b9fe0" points="-7.1,306.2 1.0,306.8 9.1,306.3 17.3,305.9 25.4,306.3 33.5,307.3 41.7,308.2 49.8,309.3 57.9,311.1 66.1,313.5 74.2,315.9 82.3,318.2 90.5,320.3 98.6,323.0 106.7,326.7 114.9,330.0 123.0,333.5 131.1,336.4 139.3,339.2 147.4,341.4 155.5,343.3 163.7,345.2 171.8,346.6 179.9,348.6 188.1,350.9 196.2,352.9 204.3,354.4 212.5,356.2 220.6,358.1 228.7,359.8 236.9,361.3 245.0,362.8 253.1,364.1 261.3,365.2 269.4,366.1 277.5,367.9 285.7,369.6 293.8,371.1 301.9,372.3 310.1,373.6 318.2,374.8 326.3,375.9 334.5,376.9 342.6,377.7 350.7,377.7 358.9,377.4 367.0,377.0 375.1,376.8 383.3,376.7 391.4,376.1 399.5,375.8 407.6,375.7 415.8,375.7 423.9,374.4 432.0,373.3 440.2,372.2 448.3,371.2 456.4,369.8 464.6,369.0 472.7,368.0 480.8,367.3 489.0,366.6 497.1,366.1 505.2,365.5 513.4,365.1 521.5,364.9 529.6,364.8 537.8,363.7 545.9,362.7 554.0,361.9 562.2,361.1 570.3,360.5 578.4,360.0 586.6,359.5 594.7,359.1 602.8,359.4 611.0,359.6 619.1,359.9 627.2,360.2 635.4,360.3 643.5,360.5 651.6,360.2 659.8,359.9 667.9,359.9 676.0,359.3 684.2,357.9 692.3,356.4 700.4,354.7 708.6,352.9 716.7,351.3 724.8,349.3 733.0,346.6 741.1,344.7 749.2,342.5 757.4,340.7 765.5,338.6 773.6,337.1 781.8,335.7 789.9,334.3 798.0,332.8 806.2,330.4 814.3,327.3 822.4,324.6 830.6,319.7 838.7,314.0 846.8,308.8 855.0,304.1 863.1,298.9 871.2,294.4 879.4,291.0 887.5,287.9 895.6,285.4 903.8,282.9 911.9,281.0 920.0,278.3 928.2,275.4 936.3,272.8 944.4,270.0 952.6,267.9 960.7,266.7 968.8,265.6 977.0,266.0 985.1,265.3 993.2,263.3 1001.4,261.3 1009.5,261.5 1017.6,261.5 1025.8,261.7 1033.9,260.7 1042.0,261.1 1050.2,262.0 1058.3,262.0 1066.4,261.1 1074.6,259.8 1082.7,259.1 1090.8,258.5 1099.0,256.7 1107.1,255.3 1115.2,253.8 1123.4,250.1 1131.5,244.8 1139.6,238.1 1147.8,232.1 1155.9,225.6 1164.0,218.9 1172.2,214.5 1180.3,210.7 1188.4,206.2 1196.6,202.6 1204.7,198.0 1212.8,193.5 1220.9,190.2 1229.1,187.4 1237.2,184.8 1245.3,182.3 1253.5,180.5 1261.6,181.5 1269.7,182.0 1277.9,181.7 1286.0,182.3 1294.1,183.6 1302.3,183.6 1310.4,183.5 1318.5,181.7 1326.7,179.8 1334.8,176.2 1342.9,172.3 1351.1,168.2 1359.2,165.0 1367.3,161.9 1375.5,159.1 1383.6,157.4 1391.7,154.3 1399.9,151.3 1408.0,146.5 1416.1,142.4 1424.3,138.1 1432.4,135.2 1440.5,131.3 1448.7,128.2 1456.8,126.0 1464.9,125.0 1473.1,123.5 1481.2,121.2 1489.3,119.2 1497.5,117.9 1505.6,114.9"/>
<polyline stroke="#e252bd" points="-7.1,312.4 1.0,312.7 9.1,311.0 17.3,309.7 25.4,309.9 33.5,311.4 41.7,312.8 49.8,314.3 57.9,317.2 66.1,321.0 74.2,324.6 82.3,328.1 90.5,331.0 98.6,334.7 106.7,340.4 114.9,345.1 123.0,350.0 131.1,353.6 139.3,356.9 147.4,359.0 155.5,360.5 163.7,361.9 171.8,362.7 179.9,364.5 188.1,366.9 196.2,368.8 204.3,369.6 212.5,371.3 220.6,373.1 228.7,374.5 236.9,375.6 245.0,376.7 253.1,377.5 261.3,377.9 269.4,378.1 277.5,380.0 285.7,381.8 293.8,383.2 301.9,384.1 310.1,385.0 318.2,385.9 326.3,386.7 334.5,387.3 342.6,387.6 350.7,386.4 358.9,384.7 367.0,382.9 375.1,381.8 383.3,381.1 391.4,379.4 399.5,378.4 407.6,377.8 415.8,377.5 423.9,374.9 432.0,372.7 440.2,370.6 448.3,368.7 456.4,366.4 464.6,365.3 472.7,363.8 480.8,362.9 489.0,362.3 497.1,361.8 505.2,361.2 513.4,360.8 521.5,361.1 529.6,361.3 537.8,359.7 545.9,358.3 554.0,357.3 562.2,356.3 570.3,355.7 578.4,355.3 586.6,355.0 594.7,354.7 602.8,355.8 611.0,356.8 619.1,357.6 627.2,358.5 635.4,359.0 643.5,359.4 651.6,359.0 659.8,358.7 667.9,358.8 676.0,357.8 684.2,355.2 692.3,352.7 700.4,349.7 708.6,347.0 716.7,344.6 724.8,341.5 733.0,337.4 741.1,334.8 749.2,331.8 757.4,329.5 765.5,326.9 773.6,325.5 781.8,324.2 789.9,322.9 798.0,321.5 806.2,318.2 814.3,313.8 822.4,310.1 830.6,302.5 838.7,293.6 846.8,286.0 855.0,279.8 863.1,272.8 871.2,267.4 879.4,264.2 887.5,261.5 895.6,260.0 903.8,258.2 911.9,257.7 920.0,255.4 928.2,252.5 936.3,250.4 944.4,247.7 952.6,246.4 960.7,246.8 968.8,247.3 977.0,250.3 985.1,251.0 993.2,248.7 1001.4,246.7 1009.5,248.9 1017.6,250.6 1025.8,252.2 1033.9,251.5 1042.0,253.4 1050.2,256.1 1058.3,256.8 1066.4,255.8 1074.6,253.9 1082.7,253.4 1090.8,252.8 1099.0,250.1 1107.1,248.2 1115.2,246.2 1123.4,240.0 1131.5,230.9 1139.6,219.8 1147.8,210.4 1155.9,200.6 1164.0,190.7 1172.2,185.6 1180.3,181.8 1188.4,176.8 1196.6,173.6 1204.7,168.3 1212.8,163.1 1220.9,160.6 1229.1,158.8 1237.2,157.5 1245.3,156.0 1253.5,155.7 1261.6,160.7 1269.7,164.3 1277.9,166.0 1286.0,169.1 1294.1,173.3 1302.3,174.6 1310.4,175.6 1318.5,173.0 1326.7,170.5 1334.8,164.6 1342.9,158.6 1351.1,152.3 1359.2,148.0 1367.3,144.2 1375.5,141.0 1383.6,140.0 1391.7,136.2 1399.9,132.6 1408.0,125.6 1416.1,120.2 1424.3,114.7 1432.4,111.9 1440.5,107.5 1448.7,104.3 1456.8,103.0 1464.9,104.0 1473.1,103.7 1481.2,101.8 1489.3,100.3 1497.5,100.1 1505.6,96.6"/>
<polyline stroke="#f4e54a" points="-7.1,318.0 1.0,317.5 9.1,314.1 17.3,311.6 25.4,311.6 33.5,313.5 41.7,315.1 49.8,316.9 57.9,320.6 66.1,325.5 74.2,330.0 82.3,334.1 90.5,337.1 98.6,341.5 106.7,348.5 114.9,353.9 123.0,359.4 131.1,363.0 139.3,366.0 147.4,367.4 155.5,368.0 163.7,368.7 171.8,368.6 179.9,370.3 188.1,372.6 196.2,374.3 204.3,374.6 212.5,376.1 220.6,377.8 228.7,379.0 236.9,379.8 245.0,380.6 253.1,381.1 261.3,381.0 269.4,380.7 277.5,383.1 285.7,385.1 293.8,386.5 301.9,387.2 310.1,388.0 318.2,388.8 326.3,389.4 334.5,389.8 342.6,389.7 350.7,387.6 358.9,385.0 367.0,382.3 375.1,380.7 383.3,379.9 391.4,377.7 399.5,376.5 407.6,376.0 415.8,375.9 423.9,372.4 432.0,369.6 440.2,367.2 448.3,365.1 456.4,362.4 464.6,361.5 472.7,360.0 480.8,359.4 489.0,359.1 497.1,359.0 505.2,358.6 513.4,358.5 521.5,359.4 529.6,360.0 537.8,357.9 545.9,356.1 554.0,355.1 562.2,354.0 570.3,353.6 578.4,353.4 586.6,353.3 594.7,353.2 602.8,355.0 611.0,356.6 619.1,357.9 627.2,359.1 635.4,359.7 643.5,360.2 651.6,359.4 659.8,358.9 667.9,359.1 676.0,357.5 684.2,353.8 692.3,350.4 700.4,346.5 708.6,343.2 716.7,340.3 724.8,336.7 733.0,331.5 741.1,328.8 749.2,325.6 757.4,323.4 765.5,320.7 773.6,319.7 781.8,319.0 789.9,318.0 798.0,316.8 806.2,312.9 814.3,307.4 822.4,303.3 830.6,293.4 838.7,282.1 846.8,273.2 855.0,266.4 863.1,258.7 871.2,253.5 879.4,251.3 887.5,249.7 895.6,249.6 903.8,249.0 911.9,250.0 920.0,248.0 928.2,245.1 936.3,243.3 944.4,240.8 952.6,240.2 960.7,241.9 968.8,243.4 977.0,248.5 985.1,249.8 993.2,246.8 1001.4,244.1 1009.5,247.8 1017.6,250.5 1025.8,252.8 1033.9,251.7 1042.0,254.5 1050.2,258.1 1058.3,258.9 1066.4,257.0 1074.6,254.1 1082.7,253.2 1090.8,252.4 1099.0,248.6 1107.1,246.1 1115.2,243.6 1123.4,235.0 1131.5,222.7 1139.6,208.0 1147.8,196.5 1155.9,184.7 1164.0,173.2 1172.2,169.1 1180.3,166.5 1188.4,161.9 1196.6,160.0 1204.7,154.8 1212.8,149.8 1220.9,148.5 1229.1,148.1 1237.2,148.1 1245.3,147.7 1253.5,148.8 1261.6,157.3 1269.7,163.1 1277.9,165.9 1286.0,170.4 1294.1,176.2 1302.3,177.6 1310.4,178.5 1318.5,174.2 1326.7,170.4 1334.8,161.8 1342.9,153.5 1351.1,145.3 1359.2,140.4 1367.3,136.2 1375.5,132.9 1383.6,133.0 1391.7,128.8 1399.9,124.8 1408.0,116.1 1416.1,110.0 1424.3,103.8 1432.4,101.8 1440.5,97.1 1448.7,94.5 1456.8,94.3 1464.9,97.3 1473.1,98.1 1481.2,96.4 1489.3,95.2 1497.5,95.8 1505.6,91.5"/>
<polyline stroke="#c4c4c4" points="-7.1,321.9 1.0,320.2 9.1,314.9 17.3,311.3 25.4,311.4 33.5,314.0 41.7,316.0 49.8,318.3 57.9,323.1 66.1,329.1 74.2,334.4 82.3,338.9 90.5,341.9 98.6,346.8 106.7,355.1 114.9,360.8 123.0,366.7 131.1,369.8 139.3,372.2 147.4,372.6 155.5,372.2 163.7,372.1 171.8,371.1 179.9,372.7 188.1,375.3 196.2,377.0 204.3,376.7 212.5,378.3 220.6,380.1 228.7,381.1 236.9,381.7 245.0,382.4 253.1,382.6 261.3,382.0 269.4,381.4 277.5,384.5 285.7,386.9 293.8,388.3 301.9,388.9 310.1,389.5 318.2,390.2 326.3,390.8 334.5,390.9 342.6,390.6 350.7,387.4 358.9,383.8 367.0,380.5 375.1,378.8 383.3,378.2 391.4,375.5 399.5,374.4 407.6,374.3 415.8,374.5 423.9,370.1 432.0,366.8 440.2,364.2 448.3,362.0 456.4,359.1 464.6,358.7 472.7,357.3 480.8,357.2 489.0,357.3 497.1,357.6 505.2,357.5 513.4,357.6 521.5,359.1 529.6,359.9 537.8,357.1 545.9,354.8 554.0,353.7 562.2,352.6 570.3,352.4 578.4,352.4 586.6,352.5 594.7,352.6 602.8,355.3 611.0,357.4 619.1,359.0 627.2,360.4 635.4,360.8 643.5,361.2 651.6,359.9 659.8,359.1 667.9,359.3 676.0,357.1 684.2,352.0 692.3,347.8 700.4,343.1 708.6,339.4 716.7,336.4 724.8,332.4 733.0,326.3 741.1,323.9 749.2,320.7 757.4,318.9 765.5,316.3 773.6,316.1 781.8,316.0 789.9,315.4 798.0,314.4 806.2,309.6 814.3,302.9 822.4,298.3 830.6,286.0 838.7,272.3 846.8,262.5 855.0,255.9 863.1,247.9 871.2,243.4 879.4,242.9 887.5,242.8 895.6,244.5 903.8,244.9 911.9,247.2 920.0,245.2 928.2,242.0 936.3,240.3 944.4,237.6 952.6,237.5 960.7,240.5 968.8,243.0 977.0,250.0 985.1,251.5 993.2,246.9 1001.4,243.2 1009.5,248.5 1017.6,252.0 1025.8,254.9 1033.9,252.7 1042.0,256.4 1050.2,260.9 1058.3,261.2 1066.4,258.0 1074.6,253.8 1082.7,252.7 1090.8,251.7 1099.0,246.7 1107.1,243.6 1115.2,240.9 1123.4,229.7 1131.5,214.1 1139.6,196.1 1147.8,183.2 1155.9,170.4 1164.0,158.1 1172.2,156.2 1180.3,155.9 1188.4,152.3 1196.6,152.0 1204.7,146.8 1212.8,141.9 1220.9,142.1 1229.1,143.2 1237.2,144.4 1245.3,144.8 1253.5,147.0 1261.6,159.2 1269.7,166.7 1277.9,169.6 1286.0,174.8 1294.1,181.7 1302.3,182.3 1310.4,182.3 1318.5,175.5 1326.7,169.9 1334.8,158.3 1342.9,147.7 1351.1,137.8 1359.2,133.0 1367.3,129.0 1375.5,126.4 1383.6,128.0 1391.7,123.5 1399.9,119.4 1408.0,108.7 1416.1,102.2 1424.3,95.7 1432.4,94.9 1440.5,90.2 1448.7,88.3 1456.8,89.7 1464.9,94.9 1473.1,96.5 1481.2,94.6 1489.3,93.5 1497.5,94.7 1505.6,89.1"/>
<polyline stroke="#3fc6a3" points="-7.1,297.7 1.0,300.8 9.1,303.3 17.3,306.2 25.4,308.7 33.5,311.4 41.7,313.0 49.8,314.8 57.9,316.7 66.1,319.7 74.2,322.3 82.3,324.2 90.5,326.2 98.6,327.6 106.7,330.3 114.9,333.6 123.0,337.1 131.1,339.8 139.3,342.4 147.4,344.8 155.5,347.0 163.7,349.9 171.8,353.3 179.9,357.2 188.1,360.7 196.2,363.8 204.3,366.4 212.5,369.3 220.6,371.8 228.7,373.6 236.9,375.2 245.0,376.8 253.1,378.5 261.3,379.4 269.4,379.4 277.5,380.2 285.7,380.7 293.8,381.3 301.9,381.9 310.1,382.8 318.2,383.9 326.3,384.9 334.5,386.0 342.6,386.6 350.7,386.4 358.9,385.9 367.0,385.7 375.1,385.2 383.3,384.7 391.4,383.9 399.5,383.3 407.6,382.8 415.8,382.4 423.9,381.2 432.0,380.1 440.2,378.2 448.3,376.3 456.4,374.1 464.6,372.5 472.7,370.6 480.8,368.8 489.0,367.1 497.1,365.4 505.2,363.8 513.4,362.8 521.5,362.3 529.6,361.9 537.8,360.7 545.9,359.3 554.0,358.4 562.2,357.3 570.3,356.2 578.4,355.0 586.6,354.9 594.7,354.6 602.8,355.0 611.0,355.4 619.1,356.1 627.2,356.4 635.4,356.9 643.5,357.2 651.6,357.1 659.8,357.0 667.9,357.1 676.0,356.7 684.2,355.4 692.3,354.0 700.4,353.1 708.6,352.1 716.7,350.9 724.8,349.5 733.0,347.3 741.1,345.5 749.2,343.4 757.4,341.5 765.5,338.7 773.6,336.3 781.8,333.9 789.9,331.4 798.0,328.8 806.2,325.5 814.3,321.8 822.4,318.2 830.6,312.7 838.7,306.7 846.8,301.5 855.0,296.6 863.1,291.3 871.2,286.4 879.4,282.1 887.5,278.2 895.6,275.3 903.8,271.7 911.9,268.9 920.0,265.2 928.2,261.4 936.3,257.4 944.4,253.0 952.6,249.2 960.7,246.1 968.8,243.9 977.0,243.3 985.1,241.9 993.2,241.1 1001.4,241.1 1009.5,242.7 1017.6,244.0 1025.8,246.0 1033.9,246.8 1042.0,248.1 1050.2,249.7 1058.3,250.3 1066.4,250.5 1074.6,249.8 1082.7,250.3 1090.8,251.1 1099.0,250.9 1107.1,251.2 1115.2,251.0 1123.4,248.3 1131.5,244.1 1139.6,237.7 1147.8,232.1 1155.9,227.0 1164.0,221.5 1172.2,215.8 1180.3,210.4 1188.4,204.3 1196.6,199.6 1204.7,192.8 1212.8,185.4 1220.9,179.4 1229.1,174.4 1237.2,169.7 1245.3,164.5 1253.5,159.8 1261.6,158.0 1269.7,155.7 1277.9,153.0 1286.0,152.7 1294.1,154.5 1302.3,156.6 1310.4,158.4 1318.5,159.6 1326.7,161.2 1334.8,159.8 1342.9,157.9 1351.1,156.2 1359.2,154.6 1367.3,153.9 1375.5,153.5 1383.6,153.0 1391.7,151.1 1399.9,149.1 1408.0,145.6 1416.1,142.1 1424.3,136.1 1432.4,131.3 1440.5,126.2 1448.7,120.8 1456.8,115.3 1464.9,111.7 1473.1,107.6 1481.2,104.3 1489.3,101.2 1497.5,99.9 1505.6,97.7"/>
<polyline stroke="#f3b53a" points="-7.1,240.8 1.0,247.4 9.1,255.5 17.3,267.5 25.4,275.7 33.5,284.1 41.7,286.9 49.8,290.6 57.9,291.6 66.1,295.0 74.2,296.4 82.3,295.4 90.5,295.8 98.6,293.7 106.7,289.4 114.9,288.6 123.0,288.1 131.1,287.8 139.3,288.0 147.4,289.4 155.5,291.1 163.7,295.0 171.8,303.2 179.9,312.3 188.1,319.7 196.2,325.9 204.3,333.5 212.5,341.6 220.6,347.4 228.7,351.4 236.9,355.4 245.0,359.7 253.1,365.9 261.3,369.6 269.4,369.6 277.5,368.6 285.7,367.7 293.8,367.4 301.9,367.4 310.1,368.2 318.2,369.8 326.3,371.5 334.5,374.8 342.6,376.0 350.7,375.3 358.9,373.5 367.0,372.2 375.1,370.7 383.3,369.8 391.4,367.1 399.5,365.7 407.6,364.7 415.8,364.0 423.9,359.7 432.0,356.1 440.2,353.0 448.3,350.3 456.4,347.0 464.6,345.5 472.7,343.8 480.8,343.4 489.0,343.7 497.1,344.6 505.2,345.9 513.4,346.0 521.5,346.1 529.6,346.2 537.8,344.9 545.9,344.3 554.0,343.5 562.2,343.1 570.3,344.0 578.4,346.5 586.6,346.3 594.7,346.1 602.8,345.7 611.0,345.4 619.1,345.7 627.2,345.4 635.4,345.7 643.5,345.7 651.6,345.7 659.8,345.6 667.9,345.6 676.0,344.9 684.2,341.2 692.3,337.7 700.4,333.5 708.6,329.8 716.7,326.2 724.8,321.3 733.0,313.9 741.1,309.7 749.2,304.8 757.4,301.0 765.5,297.1 773.6,295.2 781.8,293.9 789.9,293.0 798.0,292.3 806.2,289.5 814.3,284.3 822.4,280.8 830.6,269.3 838.7,254.0 846.8,241.7 855.0,232.5 863.1,221.7 871.2,214.1 879.4,209.8 887.5,206.2 895.6,203.6 903.8,201.7 911.9,200.9 920.0,199.2 928.2,197.1 936.3,197.2 944.4,198.1 952.6,201.5 960.7,207.9 968.8,212.8 977.0,214.8 985.1,219.6 993.2,218.8 1001.4,218.9 1009.5,218.6 1017.6,218.7 1025.8,221.1 1033.9,223.0 1042.0,222.8 1050.2,222.1 1058.3,222.2 1066.4,222.4 1074.6,221.5 1082.7,222.4 1090.8,224.5 1099.0,223.8 1107.1,224.8 1115.2,224.0 1123.4,212.2 1131.5,193.7 1139.6,172.0 1147.8,155.6 1155.9,138.9 1164.0,122.2 1172.2,113.9 1180.3,107.6 1188.4,100.4 1196.6,95.0 1204.7,89.0 1212.8,85.0 1220.9,84.0 1229.1,83.4 1237.2,83.4 1245.3,85.9 1253.5,91.3 1261.6,95.5 1269.7,101.8 1277.9,110.6 1286.0,111.4 1294.1,108.1 1302.3,108.9 1310.4,109.8 1318.5,112.5 1326.7,117.3 1334.8,113.2 1342.9,107.5 1351.1,101.7 1359.2,97.6 1367.3,95.5 1375.5,94.1 1383.6,93.2 1391.7,88.5 1399.9,83.6 1408.0,72.9 1416.1,64.4 1424.3,57.5 1432.4,54.5 1440.5,49.0 1448.7,47.3 1456.8,51.4 1464.9,56.1 1473.1,62.3 1481.2,64.0 1489.3,67.2 1497.5,67.5 1505.6,64.1"/>
<polyline stroke="#e35cc0" points="-7.1,354.5 1.0,354.2 9.1,351.1 17.3,345.0 25.4,341.7 33.5,338.8 41.7,339.1 49.8,339.0 57.9,341.7 66.1,344.3 74.2,348.2 82.3,353.0 90.5,356.5 98.6,361.6 106.7,371.3 114.9,378.6 123.0,386.2 131.1,391.8 139.3,396.8 147.4,400.3 155.5,403.0 163.7,404.8 171.8,403.5 179.9,402.1 188.1,401.8 196.2,401.6 204.3,399.4 212.5,397.1 220.6,396.1 228.7,395.8 236.9,395.1 245.0,394.0 253.1,391.1 261.3,389.2 269.4,389.2 277.5,391.7 285.7,393.6 293.8,395.3 301.9,396.4 310.1,397.4 318.2,397.9 326.3,398.2 334.5,397.2 342.6,397.2 350.7,397.5 358.9,398.4 367.0,399.2 375.1,399.7 383.3,399.7 391.4,400.7 399.5,400.9 407.6,400.9 415.8,400.8 423.9,402.7 432.0,404.0 440.2,403.4 448.3,402.2 456.4,401.3 464.6,399.4 472.7,397.3 480.8,394.2 489.0,390.5 497.1,386.3 505.2,381.7 513.4,379.6 521.5,378.5 529.6,377.6 537.8,376.5 545.9,374.2 554.0,373.3 562.2,371.5 570.3,368.4 578.4,363.6 586.6,363.4 594.7,363.2 602.8,364.3 611.0,365.4 619.1,366.4 627.2,367.4 635.4,368.0 643.5,368.6 651.6,368.5 659.8,368.4 667.9,368.6 676.0,368.6 684.2,369.6 692.3,370.4 700.4,372.6 708.6,374.4 716.7,375.7 724.8,377.6 733.0,380.7 741.1,381.3 749.2,382.0 757.4,381.9 765.5,380.3 773.6,377.4 781.8,373.9 789.9,369.7 798.0,365.3 806.2,361.4 814.3,359.3 822.4,355.6 830.6,356.0 838.7,359.4 846.8,361.3 855.0,360.6 863.1,360.9 871.2,358.7 879.4,354.3 887.5,350.2 895.6,346.9 903.8,341.8 911.9,336.9 920.0,331.1 928.2,325.7 936.3,317.5 944.4,308.0 952.6,297.0 960.7,284.4 968.8,275.0 977.0,271.8 985.1,264.2 993.2,263.4 1001.4,263.4 1009.5,266.7 1017.6,269.4 1025.8,270.9 1033.9,270.6 1042.0,273.4 1050.2,277.3 1058.3,278.5 1066.4,278.5 1074.6,278.1 1082.7,278.2 1090.8,277.8 1099.0,278.1 1107.1,277.6 1115.2,277.9 1123.4,284.4 1131.5,294.6 1139.6,303.4 1147.8,308.6 1155.9,315.2 1164.0,320.8 1172.2,317.7 1180.3,313.2 1188.4,308.3 1196.6,304.1 1204.7,296.5 1212.8,285.8 1220.9,274.9 1229.1,265.3 1237.2,255.9 1245.3,243.1 1253.5,228.2 1261.6,220.5 1269.7,209.6 1277.9,195.4 1286.0,194.0 1294.1,200.8 1302.3,204.3 1310.4,207.1 1318.5,206.7 1326.7,205.1 1334.8,206.5 1342.9,208.3 1351.1,210.8 1359.2,211.5 1367.3,212.3 1375.5,212.8 1383.6,212.8 1391.7,213.8 1399.9,214.7 1408.0,218.4 1416.1,219.7 1424.3,214.7 1432.4,208.1 1440.5,203.4 1448.7,194.2 1456.8,179.3 1464.9,167.3 1473.1,153.0 1481.2,144.7 1489.3,135.2 1497.5,132.3 1505.6,131.3"/>
</g>
<line x1="0" y1="72.5" x2="1636" y2="72.5" stroke="#3a9e80" stroke-width="1" stroke-dasharray="5,5" stroke-dashoffset="7"/>
<text x="1376.5" y="62.8" font-size="12" fill="#111">124474.00</text>
<path d="M1438,60.5 h7.5 M1442.5,58 l3,2.5 l-3,2.5" stroke="#111" stroke-width="1.2" fill="none"/>
<path d="M297,396.5 h7.5 M299.5,394 l-3,2.5 l3,2.5" stroke="#111" stroke-width="1.2" fill="none"/>
<text x="309.8" y="398.8" font-size="12" fill="#111">15476.00</text>
<text x="1673" y="16.2" text-anchor="middle" font-size="12" fill="#8e9298">140000.00</text>
<text x="1673" y="47.0" text-anchor="middle" font-size="12" fill="#8e9298">130000.00</text>
<text x="1673" y="77.8" text-anchor="middle" font-size="12" fill="#8e9298">120000.00</text>
<text x="1673" y="108.5" text-anchor="middle" font-size="12" fill="#8e9298">110000.00</text>
<text x="1673" y="139.3" text-anchor="middle" font-size="12" fill="#8e9298">100000.00</text>
<text x="1673" y="170.1" text-anchor="middle" font-size="12" fill="#8e9298">90000.00</text>
<text x="1673" y="200.9" text-anchor="middle" font-size="12" fill="#8e9298">80000.00</text>
<text x="1673" y="231.7" text-anchor="middle" font-size="12" fill="#8e9298">70000.00</text>
<text x="1673" y="262.4" text-anchor="middle" font-size="12" fill="#8e9298">60000.00</text>
<text x="1673" y="293.2" text-anchor="middle" font-size="12" fill="#8e9298">50000.00</text>
<text x="1673" y="324.0" text-anchor="middle" font-size="12" fill="#8e9298">40000.00</text>
<text x="1673" y="354.8" text-anchor="middle" font-size="12" fill="#8e9298">30000.00</text>
<text x="1673" y="385.6" text-anchor="middle" font-size="12" fill="#8e9298">20000.00</text>
<text x="1673" y="416.3" text-anchor="middle" font-size="12" fill="#8e9298">10000.00</text>
<rect x="1635" y="62.3" width="76" height="19.6" fill="#2fb48b"/>
<line x1="1635" y1="72.5" x2="1641" y2="72.5" stroke="#fff" stroke-width="1"/>
<text x="1673.5" y="76.3" text-anchor="middle" font-size="12" font-weight="bold" fill="#fff">120585.92</text>
<rect x="1709" y="356" width="2" height="36" fill="#d5d5d5"/>
<line x1="0" y1="471.5" x2="1635" y2="471.5" stroke="#c4c4c4" stroke-width="1" stroke-dasharray="5,5" stroke-dashoffset="6"/>
<line x1="0" y1="489.5" x2="1635" y2="489.5" stroke="#c4c4c4" stroke-width="1" stroke-dasharray="5,5" stroke-dashoffset="6"/>
<line x1="0" y1="507.5" x2="1635" y2="507.5" stroke="#c4c4c4" stroke-width="1" stroke-dasharray="5,5" stroke-dashoffset="6"/>
<g clip-path="url(#ck)" fill="none" stroke-width="1.1" stroke-linejoin="round">
<polyline stroke="#48c9b0" points="-7.1,498.8 1.0,491.9 9.1,481.4 17.3,476.6 25.4,478.7 33.5,484.7 41.7,488.9 49.8,496.8 57.9,503.7 66.1,505.0 74.2,506.7 82.3,508.6 90.5,509.2 98.6,512.5 106.7,512.7 114.9,512.0 123.0,513.2 131.1,511.6 139.3,510.2 147.4,506.8 155.5,503.1 163.7,500.7 171.8,492.4 179.9,493.3 188.1,500.1 196.2,503.3 204.3,498.1 212.5,502.1 220.6,506.6 228.7,508.1 236.9,508.5 245.0,509.5 253.1,508.0 261.3,502.1 269.4,497.6 277.5,503.7 285.7,508.1 293.8,509.0 301.9,507.5 310.1,507.2 318.2,507.9 326.3,508.7 334.5,507.8 342.6,504.8 350.7,490.5 358.9,481.5 367.0,475.4 375.1,473.8 383.3,475.1 391.4,471.4 399.5,471.6 407.6,473.9 415.8,477.2 423.9,471.9 432.0,469.8 440.2,468.0 448.3,466.1 456.4,465.2 464.6,468.9 472.7,468.7 480.8,470.8 489.0,474.1 497.1,486.0 505.2,489.2 513.4,492.6 521.5,499.6 529.6,501.4 537.8,489.9 545.9,481.6 554.0,478.3 562.2,476.5 570.3,477.2 578.4,478.7 586.6,480.0 594.7,480.6 602.8,492.0 611.0,500.0 619.1,505.3 627.2,509.3 635.4,507.2 643.5,505.9 651.6,497.6 659.8,492.3 667.9,492.1 676.0,482.4 684.2,476.3 692.3,472.2 700.4,469.5 708.6,467.2 716.7,465.9 724.8,463.9 733.0,463.4 741.1,466.1 749.2,466.4 757.4,469.1 765.5,469.7 773.6,477.1 781.8,482.7 789.9,486.4 798.0,491.1 806.2,482.6 814.3,475.2 822.4,472.0 830.6,468.2 838.7,466.0 846.8,467.2 855.0,468.5 863.1,467.1 871.2,467.5 879.4,471.3 887.5,474.9 895.6,479.5 903.8,484.3 911.9,490.6 920.0,488.3 928.2,484.0 936.3,482.4 944.4,478.9 952.6,479.2 960.7,484.5 968.8,488.5 977.0,496.4 985.1,496.2 993.2,488.2 1001.4,482.4 1009.5,489.8 1017.6,490.7 1025.8,491.5 1033.9,486.7 1042.0,490.0 1050.2,494.4 1058.3,493.6 1066.4,488.7 1074.6,483.3 1082.7,479.2 1090.8,477.4 1099.0,472.2 1107.1,470.0 1115.2,471.3 1123.4,467.6 1131.5,465.1 1139.6,463.4 1147.8,463.0 1155.9,463.1 1164.0,462.2 1172.2,467.4 1180.3,472.0 1188.4,472.9 1196.6,478.0 1204.7,479.0 1212.8,479.4 1220.9,484.6 1229.1,489.4 1237.2,492.9 1245.3,494.7 1253.5,492.9 1261.6,500.4 1269.7,503.2 1277.9,502.9 1286.0,504.8 1294.1,508.5 1302.3,504.5 1310.4,501.3 1318.5,490.1 1326.7,482.8 1334.8,475.6 1342.9,470.6 1351.1,468.5 1359.2,468.9 1367.3,469.0 1375.5,470.3 1383.6,474.8 1391.7,473.5 1399.9,471.8 1408.0,467.8 1416.1,470.1 1424.3,470.0 1432.4,474.2 1440.5,472.8 1448.7,474.0 1456.8,478.0 1464.9,488.8 1473.1,494.8 1481.2,494.1 1489.3,494.0 1497.5,497.1 1505.6,489.3"/>
<polyline stroke="#f2b23a" points="-7.1,500.2 1.0,497.4 9.1,492.1 17.3,486.9 25.4,484.2 33.5,484.3 41.7,485.9 49.8,489.5 57.9,494.2 66.1,497.8 74.2,500.8 82.3,503.4 90.5,505.3 98.6,507.7 106.7,509.4 114.9,510.2 123.0,511.2 131.1,511.4 139.3,511.0 147.4,509.6 155.5,507.4 163.7,505.2 171.8,500.9 179.9,498.4 188.1,498.9 196.2,500.4 204.3,499.6 212.5,500.5 220.6,502.5 228.7,504.4 236.9,505.8 245.0,507.0 253.1,507.3 261.3,505.6 269.4,502.9 277.5,503.2 285.7,504.8 293.8,506.2 301.9,506.6 310.1,506.8 318.2,507.2 326.3,507.7 334.5,507.7 342.6,506.7 350.7,501.3 358.9,494.7 367.0,488.3 375.1,483.5 383.3,480.7 391.4,477.6 399.5,475.6 407.6,475.0 415.8,475.7 423.9,474.5 432.0,472.9 440.2,471.3 448.3,469.5 456.4,468.1 464.6,468.3 472.7,468.5 480.8,469.3 489.0,470.9 497.1,475.9 505.2,480.3 513.4,484.4 521.5,489.5 529.6,493.4 537.8,492.2 545.9,488.7 554.0,485.2 562.2,482.3 570.3,480.6 578.4,480.0 586.6,480.0 594.7,480.2 602.8,484.2 611.0,489.4 619.1,494.7 627.2,499.6 635.4,502.1 643.5,503.4 651.6,501.5 659.8,498.4 667.9,496.3 676.0,491.7 684.2,486.5 692.3,481.8 700.4,477.7 708.6,474.2 716.7,471.4 724.8,468.9 733.0,467.1 741.1,466.8 749.2,466.6 757.4,467.5 765.5,468.2 773.6,471.2 781.8,475.0 789.9,478.8 798.0,482.9 806.2,482.8 814.3,480.3 822.4,477.5 830.6,474.4 838.7,471.6 846.8,470.1 855.0,469.6 863.1,468.8 871.2,468.3 879.4,469.3 887.5,471.2 895.6,473.9 903.8,477.4 911.9,481.8 920.0,484.0 928.2,484.0 936.3,483.5 944.4,481.9 952.6,481.0 960.7,482.2 968.8,484.3 977.0,488.3 985.1,491.0 993.2,490.0 1001.4,487.5 1009.5,488.3 1017.6,489.1 1025.8,489.9 1033.9,488.8 1042.0,489.2 1050.2,491.0 1058.3,491.8 1066.4,490.8 1074.6,488.3 1082.7,485.3 1090.8,482.6 1099.0,479.2 1107.1,476.1 1115.2,474.5 1123.4,472.2 1131.5,469.8 1139.6,467.7 1147.8,466.1 1155.9,465.1 1164.0,464.1 1172.2,465.2 1180.3,467.5 1188.4,469.3 1196.6,472.2 1204.7,474.5 1212.8,476.1 1220.9,479.0 1229.1,482.4 1237.2,485.9 1245.3,488.9 1253.5,490.2 1261.6,493.6 1269.7,496.8 1277.9,498.9 1286.0,500.8 1294.1,503.4 1302.3,503.8 1310.4,502.9 1318.5,498.6 1326.7,493.4 1334.8,487.5 1342.9,481.9 1351.1,477.4 1359.2,474.6 1367.3,472.7 1375.5,471.9 1383.6,472.9 1391.7,473.1 1399.9,472.7 1408.0,471.0 1416.1,470.7 1424.3,470.5 1432.4,471.7 1440.5,472.1 1448.7,472.7 1456.8,474.5 1464.9,479.3 1473.1,484.5 1481.2,487.7 1489.3,489.8 1497.5,492.2 1505.6,491.3"/>
<polyline stroke="#d94fba" points="-7.1,495.9 1.0,480.9 9.1,460.0 17.3,456.0 25.4,467.6 33.5,485.4 41.7,495.1 49.8,511.3 57.9,522.5 66.1,519.3 74.2,518.6 82.3,518.9 90.5,516.9 98.6,522.2 106.7,519.4 114.9,515.4 123.0,517.2 131.1,512.2 139.3,508.6 147.4,501.2 155.5,494.4 163.7,491.8 171.8,475.4 179.9,483.2 188.1,502.3 196.2,509.1 204.3,495.1 212.5,505.4 220.6,514.8 228.7,515.6 236.9,514.0 245.0,514.6 253.1,509.3 261.3,495.2 269.4,487.0 277.5,504.8 285.7,514.6 293.8,514.6 301.9,509.1 310.1,507.9 318.2,509.3 326.3,510.7 334.5,507.9 342.6,500.9 350.7,468.8 358.9,455.0 367.0,449.8 375.1,454.6 383.3,464.0 391.4,459.0 399.5,463.6 407.6,471.7 415.8,480.1 423.9,466.8 432.0,463.7 440.2,461.4 448.3,459.2 456.4,459.4 464.6,469.9 472.7,469.2 480.8,473.9 489.0,480.6 497.1,506.2 505.2,506.8 513.4,508.9 521.5,519.7 529.6,517.2 537.8,485.1 545.9,467.5 554.0,464.5 562.2,464.9 570.3,470.4 578.4,476.2 586.6,480.0 594.7,481.5 602.8,507.8 611.0,521.2 619.1,526.5 627.2,528.7 635.4,517.4 643.5,511.0 651.6,489.9 659.8,480.2 667.9,483.6 676.0,463.7 684.2,455.9 692.3,453.2 700.4,453.0 708.6,453.3 716.7,454.9 724.8,453.9 733.0,456.0 741.1,464.8 749.2,465.9 757.4,472.4 765.5,472.8 773.6,489.0 781.8,498.1 789.9,501.5 798.0,507.5 806.2,482.2 814.3,465.1 822.4,461.0 830.6,455.7 838.7,454.8 846.8,461.3 855.0,466.3 863.1,463.8 871.2,465.8 879.4,475.2 887.5,482.2 895.6,490.6 903.8,498.1 911.9,508.3 920.0,497.0 928.2,484.1 936.3,480.2 944.4,472.7 952.6,475.6 960.7,489.2 968.8,497.0 977.0,512.5 985.1,506.8 993.2,484.4 1001.4,472.2 1009.5,493.0 1017.6,493.9 1025.8,494.7 1033.9,482.5 1042.0,491.6 1050.2,501.4 1058.3,497.1 1066.4,484.6 1074.6,473.3 1082.7,467.1 1090.8,466.8 1099.0,458.3 1107.1,457.8 1115.2,465.0 1123.4,458.3 1131.5,455.5 1139.6,454.8 1147.8,456.8 1155.9,459.0 1164.0,458.3 1172.2,471.7 1180.3,480.9 1188.4,480.1 1196.6,489.6 1204.7,488.2 1212.8,486.0 1220.9,496.0 1229.1,503.3 1237.2,506.9 1245.3,506.5 1253.5,498.3 1261.6,514.1 1269.7,516.0 1277.9,511.1 1286.0,512.8 1294.1,518.7 1302.3,506.0 1310.4,498.0 1318.5,472.9 1326.7,461.8 1334.8,452.0 1342.9,448.2 1351.1,450.7 1359.2,457.6 1367.3,461.5 1375.5,467.0 1383.6,478.7 1391.7,474.4 1399.9,470.1 1408.0,461.4 1416.1,468.9 1424.3,469.1 1432.4,479.2 1440.5,474.1 1448.7,476.5 1456.8,485.2 1464.9,508.0 1473.1,515.6 1481.2,507.0 1489.3,502.5 1497.5,506.9 1505.6,485.4"/>
</g>
<text x="1673" y="462.5" text-anchor="middle" font-size="12" fill="#8e9298">100.00</text>
<text x="1673" y="522.5" text-anchor="middle" font-size="12" fill="#8e9298">0.00</text>
<rect x="0" y="570.5" width="1635" height="35.0" fill="#f3e9fc"/>
<line x1="0" y1="570.5" x2="1635" y2="570.5" stroke="#c4c4c4" stroke-width="1" stroke-dasharray="5,5" stroke-dashoffset="6"/>
<line x1="0" y1="605.5" x2="1635" y2="605.5" stroke="#c4c4c4" stroke-width="1" stroke-dasharray="5,5" stroke-dashoffset="6"/>
<g clip-path="url(#cr)" fill="none" stroke-width="1.1" stroke-linejoin="round">
<polyline stroke="#48c9b0" points="-7.1,601.8 1.0,586.2 9.1,573.8 17.3,575.7 25.4,588.3 33.5,596.7 41.7,597.1 49.8,599.8 57.9,608.3 66.1,613.4 74.2,614.6 82.3,615.6 90.5,612.1 98.6,617.5 106.7,622.9 114.9,619.0 123.0,620.8 131.1,611.3 139.3,611.5 147.4,600.8 155.5,594.9 163.7,596.4 171.8,589.3 179.9,602.0 188.1,607.1 196.2,604.6 204.3,592.0 212.5,601.0 220.6,603.8 228.7,600.3 236.9,598.7 245.0,600.1 253.1,597.4 261.3,586.9 269.4,585.8 277.5,610.2 285.7,610.6 293.8,606.0 301.9,599.4 310.1,600.8 318.2,602.5 326.3,603.2 334.5,596.6 342.6,589.1 350.7,564.3 358.9,559.8 367.0,557.9 375.1,568.7 383.3,577.7 391.4,566.1 399.5,576.0 407.6,582.0 415.8,585.5 423.9,564.3 432.0,565.2 440.2,564.6 448.3,563.8 456.4,559.5 464.6,578.7 472.7,573.2 480.8,581.4 489.0,583.3 497.1,585.0 505.2,582.1 513.4,585.2 521.5,598.5 529.6,595.2 537.8,569.7 545.9,569.1 554.0,575.4 562.2,573.9 570.3,580.7 578.4,584.2 586.6,585.3 594.7,584.5 602.8,609.2 611.0,609.8 619.1,609.8 627.2,611.3 635.4,598.7 643.5,599.5 651.6,577.6 659.8,578.4 667.9,591.3 676.0,570.6 684.2,559.4 692.3,558.3 700.4,555.5 708.6,555.0 716.7,554.7 724.8,551.7 733.0,549.0 741.1,568.1 749.2,564.5 757.4,569.4 765.5,565.4 773.6,579.4 781.8,579.8 789.9,576.8 798.0,574.0 806.2,560.2 814.3,555.6 822.4,558.6 830.6,550.9 838.7,549.2 846.8,551.9 855.0,555.8 863.1,553.4 871.2,562.1 879.4,576.4 887.5,577.6 895.6,585.5 903.8,582.3 911.9,591.6 920.0,577.6 928.2,573.1 936.3,577.0 944.4,572.4 952.6,583.4 960.7,595.3 968.8,596.3 977.0,609.5 985.1,593.3 993.2,578.2 1001.4,577.7 1009.5,598.2 1017.6,597.1 1025.8,597.5 1033.9,584.0 1042.0,597.0 1050.2,600.5 1058.3,590.9 1066.4,582.1 1074.6,578.1 1082.7,584.8 1090.8,584.5 1099.0,573.5 1107.1,576.7 1115.2,575.3 1123.4,560.6 1131.5,555.5 1139.6,552.7 1147.8,555.2 1155.9,553.5 1164.0,552.4 1172.2,575.8 1180.3,579.0 1188.4,573.4 1196.6,580.6 1204.7,572.2 1212.8,570.8 1220.9,582.6 1229.1,585.4 1237.2,586.3 1245.3,584.9 1253.5,591.9 1261.6,611.8 1269.7,606.1 1277.9,597.1 1286.0,602.8 1294.1,607.4 1302.3,593.0 1310.4,591.5 1318.5,576.4 1326.7,575.4 1334.8,565.2 1342.9,563.3 1351.1,561.3 1359.2,571.2 1367.3,570.6 1375.5,572.2 1383.6,586.7 1391.7,573.3 1399.9,571.9 1408.0,561.9 1416.1,567.2 1424.3,565.1 1432.4,579.8 1440.5,572.4 1448.7,577.6 1456.8,586.3 1464.9,596.5 1473.1,589.7 1481.2,581.9 1489.3,582.8 1497.5,589.5 1505.6,574.0"/>
<polyline stroke="#f2b23a" points="-7.1,597.5 1.0,591.1 9.1,584.4 17.3,585.1 25.4,590.0 33.5,593.9 41.7,594.1 49.8,595.4 57.9,599.8 66.1,603.1 74.2,604.0 82.3,604.7 90.5,603.5 98.6,606.9 106.7,611.7 114.9,610.1 123.0,611.6 131.1,607.7 139.3,607.8 147.4,603.5 155.5,600.9 163.7,601.4 171.8,598.4 179.9,602.7 188.1,604.9 196.2,603.9 204.3,598.5 212.5,602.0 220.6,603.1 228.7,601.7 236.9,601.1 245.0,601.6 253.1,600.6 261.3,596.7 269.4,596.3 277.5,605.2 285.7,605.4 293.8,603.7 301.9,601.1 310.1,601.6 318.2,602.2 326.3,602.4 334.5,600.3 342.6,597.7 350.7,583.3 358.9,578.8 367.0,576.8 375.1,580.7 383.3,584.2 391.4,576.7 399.5,581.1 407.6,583.9 415.8,585.6 423.9,572.4 432.0,572.8 440.2,572.5 448.3,571.9 456.4,568.9 464.6,577.8 472.7,574.9 480.8,579.0 489.0,580.0 497.1,580.8 505.2,579.7 513.4,581.0 521.5,587.5 529.6,586.4 537.8,574.7 545.9,574.3 554.0,577.2 562.2,576.5 570.3,579.4 578.4,580.9 586.6,581.3 594.7,581.1 602.8,594.4 611.0,594.8 619.1,594.8 627.2,595.9 635.4,591.8 643.5,592.2 651.6,583.3 659.8,583.6 667.9,588.9 676.0,577.9 684.2,568.7 692.3,567.7 700.4,564.8 708.6,564.4 716.7,564.1 724.8,560.9 733.0,557.3 741.1,567.9 749.2,565.8 757.4,568.5 765.5,566.3 773.6,574.1 781.8,574.3 789.9,573.1 798.0,571.9 806.2,564.5 814.3,561.0 822.4,562.5 830.6,555.7 838.7,553.7 846.8,555.3 855.0,557.5 863.1,555.9 871.2,560.7 879.4,569.1 887.5,569.9 895.6,574.5 903.8,573.4 911.9,578.9 920.0,573.3 928.2,571.2 936.3,573.3 944.4,571.3 952.6,576.8 960.7,583.9 968.8,584.5 977.0,594.3 985.1,587.1 993.2,579.1 1001.4,578.8 1009.5,591.4 1017.6,590.8 1025.8,591.1 1033.9,584.5 1042.0,592.0 1050.2,594.2 1058.3,589.5 1066.4,584.8 1074.6,582.5 1082.7,585.7 1090.8,585.6 1099.0,579.8 1107.1,581.2 1115.2,580.5 1123.4,570.8 1131.5,565.9 1139.6,562.6 1147.8,563.8 1155.9,562.2 1164.0,561.0 1172.2,573.0 1180.3,574.8 1188.4,572.2 1196.6,576.0 1204.7,572.1 1212.8,571.4 1220.9,577.3 1229.1,578.8 1237.2,579.2 1245.3,578.8 1253.5,582.0 1261.6,595.4 1269.7,593.2 1277.9,589.6 1286.0,593.1 1294.1,596.2 1302.3,590.0 1310.4,589.4 1318.5,581.6 1326.7,581.1 1334.8,574.4 1342.9,573.1 1351.1,571.5 1359.2,575.7 1367.3,575.4 1375.5,576.0 1383.6,582.1 1391.7,576.1 1399.9,575.4 1408.0,569.3 1416.1,571.7 1424.3,570.5 1432.4,577.3 1440.5,573.7 1448.7,576.3 1456.8,580.7 1464.9,586.5 1473.1,583.8 1481.2,580.4 1489.3,580.8 1497.5,584.0 1505.6,577.0"/>
<polyline stroke="#d94fba" points="-7.1,592.0 1.0,589.1 9.1,585.7 17.3,586.1 25.4,588.5 33.5,590.6 41.7,590.7 49.8,591.4 57.9,593.8 66.1,595.7 74.2,596.2 82.3,596.6 90.5,596.2 98.6,598.1 106.7,601.4 114.9,600.7 123.0,601.7 131.1,600.2 139.3,600.2 147.4,598.5 155.5,597.5 163.7,597.7 171.8,596.5 179.9,598.5 188.1,599.6 196.2,599.2 204.3,597.1 212.5,598.7 220.6,599.2 228.7,598.7 236.9,598.5 245.0,598.6 253.1,598.3 261.3,596.9 269.4,596.8 277.5,600.4 285.7,600.5 293.8,599.9 301.9,598.9 310.1,599.1 318.2,599.4 326.3,599.5 334.5,598.8 342.6,597.9 350.7,592.4 358.9,590.2 367.0,589.1 375.1,590.3 383.3,591.5 391.4,587.7 399.5,589.2 407.6,590.2 415.8,590.8 423.9,583.5 432.0,583.7 440.2,583.4 448.3,583.1 456.4,581.2 464.6,584.5 472.7,582.9 480.8,584.6 489.0,585.0 497.1,585.3 505.2,584.7 513.4,585.2 521.5,587.8 529.6,587.3 537.8,581.6 545.9,581.4 554.0,582.5 562.2,582.2 570.3,583.3 578.4,583.9 586.6,584.1 594.7,584.0 602.8,589.5 611.0,589.7 619.1,589.7 627.2,590.2 635.4,588.8 643.5,588.9 651.6,585.5 659.8,585.6 667.9,587.7 676.0,582.8 684.2,577.2 692.3,576.5 700.4,574.5 708.6,574.1 716.7,573.9 724.8,571.6 733.0,568.3 741.1,573.4 749.2,571.9 757.4,573.2 765.5,571.8 773.6,575.8 781.8,575.9 789.9,575.2 798.0,574.6 806.2,570.0 814.3,567.4 822.4,568.2 830.6,562.3 838.7,560.3 846.8,561.2 855.0,562.5 863.1,561.1 871.2,563.8 879.4,568.8 887.5,569.2 895.6,572.0 903.8,571.4 911.9,574.6 920.0,571.8 928.2,570.6 936.3,571.8 944.4,570.7 952.6,573.8 960.7,578.1 968.8,578.4 977.0,584.8 985.1,581.4 993.2,577.1 1001.4,576.9 1009.5,585.2 1017.6,584.9 1025.8,585.0 1033.9,581.7 1042.0,586.5 1050.2,588.0 1058.3,585.5 1066.4,583.0 1074.6,581.7 1082.7,583.6 1090.8,583.5 1099.0,580.4 1107.1,581.2 1115.2,580.8 1123.4,575.1 1131.5,571.7 1139.6,569.1 1147.8,569.7 1155.9,568.5 1164.0,567.5 1172.2,574.1 1180.3,575.1 1188.4,573.6 1196.6,575.7 1204.7,573.5 1212.8,573.1 1220.9,576.3 1229.1,577.1 1237.2,577.4 1245.3,577.1 1253.5,578.8 1261.6,586.7 1269.7,585.7 1277.9,584.1 1286.0,586.2 1294.1,588.1 1302.3,585.3 1310.4,585.0 1318.5,581.2 1326.7,580.9 1334.8,577.3 1342.9,576.5 1351.1,575.5 1359.2,577.6 1367.3,577.4 1375.5,577.7 1383.6,580.6 1391.7,577.6 1399.9,577.3 1408.0,573.9 1416.1,575.0 1424.3,574.3 1432.4,577.6 1440.5,575.7 1448.7,577.0 1456.8,579.2 1464.9,582.3 1473.1,581.0 1481.2,579.4 1489.3,579.6 1497.5,581.2 1505.6,577.9"/>
</g>
<text x="1673" y="547.8" text-anchor="middle" font-size="12" fill="#8e9298">100.00</text>
<text x="1673" y="573.5" text-anchor="middle" font-size="12" fill="#8e9298">70.00</text>
<text x="1673" y="590.3" text-anchor="middle" font-size="12" fill="#8e9298">50.00</text>
<text x="1673" y="608.7" text-anchor="middle" font-size="12" fill="#8e9298">30.00</text>
<g clip-path="url(#cd)">
<rect x="-2" y="701" width="6" height="9" fill="#e84b58"/>
<rect x="6" y="701" width="6" height="2" fill="#e84b58"/>
<rect x="14.5" y="698.5" width="5" height="2" fill="none" stroke="#31b48d" stroke-width="1"/>
<rect x="22.5" y="698.5" width="5" height="2" fill="none" stroke="#31b48d" stroke-width="1"/>
<rect x="30" y="700" width="6" height="1" fill="#31b48d"/>
<rect x="38" y="701" width="6" height="1" fill="#e84b58"/>
<rect x="46" y="701" width="6" height="1" fill="#e84b58"/>
<rect x="54.5" y="701.5" width="5" height="3" fill="none" stroke="#e84b58" stroke-width="1"/>
<rect x="63.5" y="701.5" width="5" height="7" fill="none" stroke="#e84b58" stroke-width="1"/>
<rect x="71.5" y="701.5" width="5" height="9" fill="none" stroke="#e84b58" stroke-width="1"/>
<rect x="79.5" y="701.5" width="5" height="10" fill="none" stroke="#e84b58" stroke-width="1"/>
<rect x="87" y="701" width="6" height="11" fill="#e84b58"/>
<rect x="95.5" y="701.5" width="5" height="11" fill="none" stroke="#e84b58" stroke-width="1"/>
<rect x="103.5" y="701.5" width="5" height="15" fill="none" stroke="#e84b58" stroke-width="1"/>
<rect x="111.5" y="701.5" width="5" height="15" fill="none" stroke="#e84b58" stroke-width="1"/>
<rect x="119.5" y="701.5" width="5" height="16" fill="none" stroke="#e84b58" stroke-width="1"/>
<rect x="128" y="701" width="6" height="15" fill="#e84b58"/>
<rect x="136" y="701" width="6" height="12" fill="#e84b58"/>
<rect x="144" y="701" width="6" height="8" fill="#e84b58"/>
<rect x="152" y="701" width="6" height="4" fill="#e84b58"/>
<rect x="160" y="701" width="6" height="1" fill="#e84b58"/>
<rect x="168" y="699" width="6" height="2" fill="#31b48d"/>
<rect x="176.5" y="698.5" width="5" height="2" fill="none" stroke="#31b48d" stroke-width="1"/>
<rect x="185" y="699" width="6" height="2" fill="#31b48d"/>
<rect x="193" y="699" width="6" height="2" fill="#31b48d"/>
<rect x="201.5" y="697.5" width="5" height="3" fill="none" stroke="#31b48d" stroke-width="1"/>
<rect x="209" y="697" width="6" height="4" fill="#31b48d"/>
<rect x="217" y="697" width="6" height="4" fill="#31b48d"/>
<rect x="225.5" y="697.5" width="5" height="3" fill="none" stroke="#31b48d" stroke-width="1"/>
<rect x="233.5" y="696.5" width="5" height="4" fill="none" stroke="#31b48d" stroke-width="1"/>
<rect x="241.5" y="696.5" width="5" height="4" fill="none" stroke="#31b48d" stroke-width="1"/>
<rect x="250.5" y="695.5" width="5" height="5" fill="none" stroke="#31b48d" stroke-width="1"/>
<rect x="258.5" y="694.5" width="5" height="6" fill="none" stroke="#31b48d" stroke-width="1"/>
<rect x="266.5" y="693.5" width="5" height="7" fill="none" stroke="#31b48d" stroke-width="1"/>
<rect x="274" y="695" width="6" height="6" fill="#31b48d"/>
<rect x="282" y="697" width="6" height="4" fill="#31b48d"/>
<rect x="290" y="697" width="6" height="4" fill="#31b48d"/>
<rect x="298.5" y="697.5" width="5" height="3" fill="none" stroke="#31b48d" stroke-width="1"/>
<rect x="307.5" y="697.5" width="5" height="3" fill="none" stroke="#31b48d" stroke-width="1"/>
<rect x="315.5" y="697.5" width="5" height="3" fill="none" stroke="#31b48d" stroke-width="1"/>
<rect x="323.5" y="696.5" width="5" height="4" fill="none" stroke="#31b48d" stroke-width="1"/>
<rect x="331.5" y="696.5" width="5" height="4" fill="none" stroke="#31b48d" stroke-width="1"/>
<rect x="339.5" y="695.5" width="5" height="5" fill="none" stroke="#31b48d" stroke-width="1"/>
<rect x="347.5" y="692.5" width="5" height="8" fill="none" stroke="#31b48d" stroke-width="1"/>
<rect x="355.5" y="690.5" width="5" height="10" fill="none" stroke="#31b48d" stroke-width="1"/>
<rect x="363.5" y="688.5" width="5" height="12" fill="none" stroke="#31b48d" stroke-width="1"/>
<rect x="372.5" y="687.5" width="5" height="13" fill="none" stroke="#31b48d" stroke-width="1"/>
<rect x="380" y="688" width="6" height="13" fill="#31b48d"/>
<rect x="388.5" y="688.5" width="5" height="12" fill="none" stroke="#31b48d" stroke-width="1"/>
<rect x="396" y="689" width="6" height="12" fill="#31b48d"/>
<rect x="404" y="690" width="6" height="11" fill="#31b48d"/>
<rect x="412" y="692" width="6" height="9" fill="#31b48d"/>
<rect x="420.5" y="689.5" width="5" height="11" fill="none" stroke="#31b48d" stroke-width="1"/>
<rect x="429.5" y="688.5" width="5" height="12" fill="none" stroke="#31b48d" stroke-width="1"/>
<rect x="437.5" y="688.5" width="5" height="12" fill="none" stroke="#31b48d" stroke-width="1"/>
<rect x="445" y="689" width="6" height="12" fill="#31b48d"/>
<rect x="453.5" y="688.5" width="5" height="12" fill="none" stroke="#31b48d" stroke-width="1"/>
<rect x="461" y="691" width="6" height="10" fill="#31b48d"/>
<rect x="469" y="692" width="6" height="9" fill="#31b48d"/>
<rect x="477" y="694" width="6" height="7" fill="#31b48d"/>
<rect x="485" y="695" width="6" height="6" fill="#31b48d"/>
<rect x="494" y="697" width="6" height="4" fill="#31b48d"/>
<rect x="502" y="698" width="6" height="3" fill="#31b48d"/>
<rect x="510" y="700" width="6" height="1" fill="#31b48d"/>
<rect x="518" y="701" width="6" height="1" fill="#e84b58"/>
<rect x="526" y="701" width="6" height="2" fill="#e84b58"/>
<rect x="534" y="701" width="6" height="1" fill="#e84b58"/>
<rect x="542" y="699" width="6" height="2" fill="#31b48d"/>
<rect x="551" y="699" width="6" height="2" fill="#31b48d"/>
<rect x="559" y="699" width="6" height="2" fill="#31b48d"/>
<rect x="567" y="700" width="6" height="1" fill="#31b48d"/>
<rect x="575" y="701" width="6" height="1" fill="#31b48d"/>
<rect x="583" y="701" width="6" height="1" fill="#e84b58"/>
<rect x="591" y="701" width="6" height="1" fill="#e84b58"/>
<rect x="599.5" y="701.5" width="5" height="3" fill="none" stroke="#e84b58" stroke-width="1"/>
<rect x="607.5" y="701.5" width="5" height="4" fill="none" stroke="#e84b58" stroke-width="1"/>
<rect x="616.5" y="701.5" width="5" height="5" fill="none" stroke="#e84b58" stroke-width="1"/>
<rect x="624.5" y="701.5" width="5" height="6" fill="none" stroke="#e84b58" stroke-width="1"/>
<rect x="632" y="701" width="6" height="6" fill="#e84b58"/>
<rect x="640" y="701" width="6" height="6" fill="#e84b58"/>
<rect x="648" y="701" width="6" height="4" fill="#e84b58"/>
<rect x="656" y="701" width="6" height="2" fill="#e84b58"/>
<rect x="664" y="701" width="6" height="2" fill="#e84b58"/>
<rect x="673" y="701" width="6" height="1" fill="#e84b58"/>
<rect x="681.5" y="697.5" width="5" height="3" fill="none" stroke="#31b48d" stroke-width="1"/>
<rect x="689.5" y="694.5" width="5" height="6" fill="none" stroke="#31b48d" stroke-width="1"/>
<rect x="697.5" y="691.5" width="5" height="9" fill="none" stroke="#31b48d" stroke-width="1"/>
<rect x="705.5" y="690.5" width="5" height="10" fill="none" stroke="#31b48d" stroke-width="1"/>
<rect x="713.5" y="690.5" width="5" height="10" fill="none" stroke="#31b48d" stroke-width="1"/>
<rect x="721.5" y="689.5" width="5" height="11" fill="none" stroke="#31b48d" stroke-width="1"/>
<rect x="729.5" y="686.5" width="5" height="14" fill="none" stroke="#31b48d" stroke-width="1"/>
<rect x="738" y="687" width="6" height="14" fill="#31b48d"/>
<rect x="746" y="688" width="6" height="13" fill="#31b48d"/>
<rect x="754" y="690" width="6" height="11" fill="#31b48d"/>
<rect x="762" y="691" width="6" height="10" fill="#31b48d"/>
<rect x="770" y="693" width="6" height="8" fill="#31b48d"/>
<rect x="778" y="696" width="6" height="5" fill="#31b48d"/>
<rect x="786" y="698" width="6" height="3" fill="#31b48d"/>
<rect x="795" y="699" width="6" height="2" fill="#31b48d"/>
<rect x="803.5" y="696.5" width="5" height="4" fill="none" stroke="#31b48d" stroke-width="1"/>
<rect x="811.5" y="693.5" width="5" height="7" fill="none" stroke="#31b48d" stroke-width="1"/>
<rect x="819.5" y="692.5" width="5" height="8" fill="none" stroke="#31b48d" stroke-width="1"/>
<rect x="827.5" y="684.5" width="5" height="16" fill="none" stroke="#31b48d" stroke-width="1"/>
<rect x="835.5" y="677.5" width="5" height="23" fill="none" stroke="#31b48d" stroke-width="1"/>
<rect x="843.5" y="675.5" width="5" height="25" fill="none" stroke="#31b48d" stroke-width="1"/>
<rect x="851" y="676" width="6" height="25" fill="#31b48d"/>
<rect x="860.5" y="676.5" width="5" height="24" fill="none" stroke="#31b48d" stroke-width="1"/>
<rect x="868" y="679" width="6" height="22" fill="#31b48d"/>
<rect x="876" y="685" width="6" height="16" fill="#31b48d"/>
<rect x="884" y="691" width="6" height="10" fill="#31b48d"/>
<rect x="892" y="697" width="6" height="4" fill="#31b48d"/>
<rect x="900" y="701" width="6" height="1" fill="#e84b58"/>
<rect x="908.5" y="701.5" width="5" height="5" fill="none" stroke="#e84b58" stroke-width="1"/>
<rect x="917.5" y="701.5" width="5" height="5" fill="none" stroke="#e84b58" stroke-width="1"/>
<rect x="925" y="701" width="6" height="5" fill="#e84b58"/>
<rect x="933.5" y="701.5" width="5" height="5" fill="none" stroke="#e84b58" stroke-width="1"/>
<rect x="941" y="701" width="6" height="5" fill="#e84b58"/>
<rect x="949.5" y="701.5" width="5" height="6" fill="none" stroke="#e84b58" stroke-width="1"/>
<rect x="957.5" y="701.5" width="5" height="10" fill="none" stroke="#e84b58" stroke-width="1"/>
<rect x="965.5" y="701.5" width="5" height="13" fill="none" stroke="#e84b58" stroke-width="1"/>
<rect x="973.5" y="701.5" width="5" height="19" fill="none" stroke="#e84b58" stroke-width="1"/>
<rect x="982.5" y="701.5" width="5" height="19" fill="none" stroke="#e84b58" stroke-width="1"/>
<rect x="990" y="701" width="6" height="14" fill="#e84b58"/>
<rect x="998" y="701" width="6" height="11" fill="#e84b58"/>
<rect x="1006.5" y="701.5" width="5" height="14" fill="none" stroke="#e84b58" stroke-width="1"/>
<rect x="1014.5" y="701.5" width="5" height="16" fill="none" stroke="#e84b58" stroke-width="1"/>
<rect x="1022.5" y="701.5" width="5" height="17" fill="none" stroke="#e84b58" stroke-width="1"/>
<rect x="1030" y="701" width="6" height="14" fill="#e84b58"/>
<rect x="1039.5" y="701.5" width="5" height="15" fill="none" stroke="#e84b58" stroke-width="1"/>
<rect x="1047.5" y="701.5" width="5" height="17" fill="none" stroke="#e84b58" stroke-width="1"/>
<rect x="1055" y="701" width="6" height="16" fill="#e84b58"/>
<rect x="1063" y="701" width="6" height="11" fill="#e84b58"/>
<rect x="1071" y="701" width="6" height="6" fill="#e84b58"/>
<rect x="1079" y="701" width="6" height="4" fill="#e84b58"/>
<rect x="1087" y="701" width="6" height="3" fill="#e84b58"/>
<rect x="1095" y="700" width="6" height="1" fill="#31b48d"/>
<rect x="1104.5" y="698.5" width="5" height="2" fill="none" stroke="#31b48d" stroke-width="1"/>
<rect x="1112.5" y="696.5" width="5" height="4" fill="none" stroke="#31b48d" stroke-width="1"/>
<rect x="1120.5" y="688.5" width="5" height="12" fill="none" stroke="#31b48d" stroke-width="1"/>
<rect x="1128.5" y="678.5" width="5" height="22" fill="none" stroke="#31b48d" stroke-width="1"/>
<rect x="1136.5" y="667.5" width="5" height="33" fill="none" stroke="#31b48d" stroke-width="1"/>
<rect x="1144.5" y="663.5" width="5" height="37" fill="none" stroke="#31b48d" stroke-width="1"/>
<rect x="1152.5" y="660.5" width="5" height="40" fill="none" stroke="#31b48d" stroke-width="1"/>
<rect x="1161.5" y="659.5" width="5" height="41" fill="none" stroke="#31b48d" stroke-width="1"/>
<rect x="1169" y="667" width="6" height="34" fill="#31b48d"/>
<rect x="1177" y="675" width="6" height="26" fill="#31b48d"/>
<rect x="1185" y="680" width="6" height="21" fill="#31b48d"/>
<rect x="1193" y="687" width="6" height="14" fill="#31b48d"/>
<rect x="1201" y="688" width="6" height="13" fill="#31b48d"/>
<rect x="1209" y="690" width="6" height="11" fill="#31b48d"/>
<rect x="1217" y="695" width="6" height="6" fill="#31b48d"/>
<rect x="1226" y="701" width="6" height="1" fill="#e84b58"/>
<rect x="1234.5" y="701.5" width="5" height="4" fill="none" stroke="#e84b58" stroke-width="1"/>
<rect x="1242.5" y="701.5" width="5" height="7" fill="none" stroke="#e84b58" stroke-width="1"/>
<rect x="1250.5" y="701.5" width="5" height="11" fill="none" stroke="#e84b58" stroke-width="1"/>
<rect x="1258.5" y="701.5" width="5" height="22" fill="none" stroke="#e84b58" stroke-width="1"/>
<rect x="1266.5" y="701.5" width="5" height="28" fill="none" stroke="#e84b58" stroke-width="1"/>
<rect x="1274.5" y="701.5" width="5" height="28" fill="none" stroke="#e84b58" stroke-width="1"/>
<rect x="1283.5" y="701.5" width="5" height="30" fill="none" stroke="#e84b58" stroke-width="1"/>
<rect x="1291.5" y="701.5" width="5" height="33" fill="none" stroke="#e84b58" stroke-width="1"/>
<rect x="1299" y="701" width="6" height="30" fill="#e84b58"/>
<rect x="1307" y="701" width="6" height="26" fill="#e84b58"/>
<rect x="1315" y="701" width="6" height="17" fill="#e84b58"/>
<rect x="1323" y="701" width="6" height="10" fill="#e84b58"/>
<rect x="1331" y="700" width="6" height="1" fill="#31b48d"/>
<rect x="1339.5" y="692.5" width="5" height="8" fill="none" stroke="#31b48d" stroke-width="1"/>
<rect x="1348.5" y="686.5" width="5" height="14" fill="none" stroke="#31b48d" stroke-width="1"/>
<rect x="1356.5" y="686.5" width="5" height="14" fill="none" stroke="#31b48d" stroke-width="1"/>
<rect x="1364" y="686" width="6" height="15" fill="#31b48d"/>
<rect x="1372" y="688" width="6" height="13" fill="#31b48d"/>
<rect x="1380" y="693" width="6" height="8" fill="#31b48d"/>
<rect x="1388.5" y="693.5" width="5" height="7" fill="none" stroke="#31b48d" stroke-width="1"/>
<rect x="1396.5" y="692.5" width="5" height="8" fill="none" stroke="#31b48d" stroke-width="1"/>
<rect x="1405.5" y="687.5" width="5" height="13" fill="none" stroke="#31b48d" stroke-width="1"/>
<rect x="1413.5" y="686.5" width="5" height="14" fill="none" stroke="#31b48d" stroke-width="1"/>
<rect x="1421.5" y="685.5" width="5" height="15" fill="none" stroke="#31b48d" stroke-width="1"/>
<rect x="1429" y="689" width="6" height="12" fill="#31b48d"/>
<rect x="1437" y="690" width="6" height="11" fill="#31b48d"/>
<rect x="1445" y="693" width="6" height="8" fill="#31b48d"/>
<rect x="1453" y="698" width="6" height="3" fill="#31b48d"/>
<rect x="1461.5" y="701.5" width="5" height="4" fill="none" stroke="#e84b58" stroke-width="1"/>
<rect x="1470.5" y="701.5" width="5" height="7" fill="none" stroke="#e84b58" stroke-width="1"/>
<rect x="1478" y="701" width="6" height="8" fill="#e84b58"/>
<rect x="1486.5" y="701.5" width="5" height="7" fill="none" stroke="#e84b58" stroke-width="1"/>
<rect x="1494.5" y="701.5" width="5" height="9" fill="none" stroke="#e84b58" stroke-width="1"/>
<rect x="1502" y="701" width="6" height="5" fill="#e84b58"/>
</g>
<g clip-path="url(#cd)" fill="none" stroke-width="1.1" stroke-linejoin="round">
<polyline stroke="#48c9b0" points="-7.1,715.6 1.0,714.4 9.1,711.1 17.3,708.7 25.4,708.2 33.5,709.0 41.7,709.7 49.8,710.5 57.9,712.6 66.1,715.5 74.2,718.0 82.3,720.0 90.5,721.2 98.6,723.3 106.7,727.2 114.9,729.6 123.0,732.0 131.1,732.9 139.3,733.2 147.4,732.4 155.5,731.0 163.7,729.6 171.8,727.8 179.9,727.3 188.1,727.3 196.2,726.9 204.3,725.4 212.5,725.0 220.6,724.7 228.7,724.0 236.9,723.1 245.0,722.2 253.1,721.2 261.3,719.7 269.4,718.3 277.5,718.8 285.7,719.1 293.8,718.9 301.9,718.3 310.1,717.7 318.2,717.1 326.3,716.5 334.5,715.7 342.6,714.7 350.7,712.2 358.9,709.4 367.0,706.8 375.1,705.1 383.3,704.1 391.4,702.1 399.5,701.0 407.6,700.5 415.8,700.3 423.9,697.6 432.0,695.6 440.2,694.0 448.3,692.7 456.4,691.1 464.6,690.9 472.7,690.3 480.8,690.4 489.0,690.7 497.1,691.2 505.2,691.5 513.4,691.9 521.5,693.1 529.6,694.0 537.8,692.9 545.9,692.1 554.0,691.8 562.2,691.6 570.3,691.8 578.4,692.2 586.6,692.7 594.7,693.1 602.8,694.9 611.0,696.5 619.1,697.7 627.2,698.9 635.4,699.5 643.5,700.0 651.6,699.6 659.8,699.3 667.9,699.5 676.0,698.5 684.2,695.9 692.3,693.6 700.4,691.1 708.6,689.2 716.7,687.7 724.8,685.7 733.0,682.7 741.1,681.6 749.2,680.3 757.4,679.8 765.5,679.0 773.6,679.6 781.8,680.3 789.9,680.8 798.0,681.1 806.2,679.4 814.3,676.7 822.4,675.0 830.6,669.2 838.7,662.7 846.8,658.3 855.0,655.6 863.1,652.5 871.2,651.4 879.4,652.6 887.5,654.3 895.6,657.0 903.8,659.2 911.9,662.5 920.0,663.5 928.2,663.8 936.3,664.8 944.4,665.2 952.6,667.1 960.7,670.5 968.8,673.6 977.0,679.2 985.1,681.7 993.2,680.9 1001.4,680.4 1009.5,684.4 1017.6,687.6 1025.8,690.4 1033.9,690.3 1042.0,693.2 1050.2,696.6 1058.3,697.6 1066.4,696.5 1074.6,694.8 1082.7,694.6 1090.8,694.4 1099.0,692.1 1107.1,690.7 1115.2,689.5 1123.4,683.8 1131.5,675.7 1139.6,666.2 1147.8,659.5 1155.9,653.0 1164.0,647.1 1172.2,646.9 1180.3,648.0 1188.4,647.7 1196.6,649.3 1204.7,648.5 1212.8,647.9 1220.9,650.1 1229.1,653.0 1237.2,655.9 1245.3,658.5 1253.5,662.0 1261.6,670.8 1269.7,677.2 1277.9,681.0 1286.0,685.9 1294.1,691.4 1302.3,693.4 1310.4,694.8 1318.5,692.3 1326.7,690.2 1334.8,684.7 1342.9,679.6 1351.1,674.7 1359.2,672.6 1367.3,671.1 1375.5,670.5 1383.6,672.2 1391.7,670.8 1399.9,669.7 1408.0,665.1 1416.1,662.7 1424.3,660.4 1432.4,661.2 1440.5,660.1 1448.7,660.6 1456.8,662.9 1464.9,667.4 1473.1,670.1 1481.2,670.9 1489.3,671.9 1497.5,674.2 1505.6,672.8"/>
<polyline stroke="#f2b23a" points="-7.1,708.7 1.0,709.9 9.1,710.1 17.3,709.8 25.4,709.5 33.5,709.4 41.7,709.5 49.8,709.7 57.9,710.3 66.1,711.3 74.2,712.6 82.3,714.1 90.5,715.5 98.6,717.1 106.7,719.1 114.9,721.2 123.0,723.4 131.1,725.3 139.3,726.9 147.4,728.0 155.5,728.6 163.7,728.8 171.8,728.6 179.9,728.3 188.1,728.1 196.2,727.9 204.3,727.4 212.5,726.9 220.6,726.4 228.7,726.0 236.9,725.4 245.0,724.7 253.1,724.0 261.3,723.2 269.4,722.2 277.5,721.5 285.7,721.0 293.8,720.6 301.9,720.1 310.1,719.6 318.2,719.1 326.3,718.6 334.5,718.0 342.6,717.4 350.7,716.3 358.9,715.0 367.0,713.3 375.1,711.7 383.3,710.2 391.4,708.6 399.5,707.0 407.6,705.7 415.8,704.6 423.9,703.2 432.0,701.7 440.2,700.2 448.3,698.7 456.4,697.2 464.6,695.9 472.7,694.8 480.8,693.9 489.0,693.3 497.1,692.8 505.2,692.6 513.4,692.4 521.5,692.6 529.6,692.9 537.8,692.9 545.9,692.7 554.0,692.5 562.2,692.4 570.3,692.2 578.4,692.2 586.6,692.3 594.7,692.5 602.8,693.0 611.0,693.7 619.1,694.5 627.2,695.4 635.4,696.2 643.5,696.9 651.6,697.5 659.8,697.8 667.9,698.2 676.0,698.2 684.2,697.8 692.3,696.9 700.4,695.8 708.6,694.4 716.7,693.1 724.8,691.6 733.0,689.8 741.1,688.2 749.2,686.6 757.4,685.3 765.5,684.0 773.6,683.1 781.8,682.6 789.9,682.2 798.0,682.0 806.2,681.5 814.3,680.5 822.4,679.4 830.6,677.4 838.7,674.4 846.8,671.2 855.0,668.1 863.1,665.0 871.2,662.2 879.4,660.3 887.5,659.1 895.6,658.7 903.8,658.8 911.9,659.5 920.0,660.3 928.2,661.0 936.3,661.8 944.4,662.5 952.6,663.4 960.7,664.8 968.8,666.6 977.0,669.1 985.1,671.6 993.2,673.5 1001.4,674.9 1009.5,676.8 1017.6,678.9 1025.8,681.2 1033.9,683.0 1042.0,685.1 1050.2,687.4 1058.3,689.4 1066.4,690.8 1074.6,691.6 1082.7,692.2 1090.8,692.7 1099.0,692.5 1107.1,692.2 1115.2,691.6 1123.4,690.1 1131.5,687.2 1139.6,683.0 1147.8,678.3 1155.9,673.2 1164.0,668.0 1172.2,663.8 1180.3,660.6 1188.4,658.0 1196.6,656.3 1204.7,654.7 1212.8,653.4 1220.9,652.7 1229.1,652.8 1237.2,653.4 1245.3,654.4 1253.5,655.9 1261.6,658.9 1269.7,662.6 1277.9,666.3 1286.0,670.2 1294.1,674.4 1302.3,678.2 1310.4,681.5 1318.5,683.7 1326.7,685.0 1334.8,684.9 1342.9,683.9 1351.1,682.1 1359.2,680.2 1367.3,678.4 1375.5,676.8 1383.6,675.9 1391.7,674.9 1399.9,673.8 1408.0,672.1 1416.1,670.2 1424.3,668.2 1432.4,666.8 1440.5,665.5 1448.7,664.5 1456.8,664.2 1464.9,664.8 1473.1,665.9 1481.2,666.9 1489.3,667.9 1497.5,669.2 1505.6,669.9"/>
</g>
<rect x="0" y="717" width="2" height="8" fill="#111"/>
<text x="1673" y="652.9" text-anchor="middle" font-size="12" fill="#8e9298">10000.00</text>
<text x="1673" y="704.6" text-anchor="middle" font-size="12" fill="#8e9298">0.00</text>
<text x="57.9" y="754.5" text-anchor="middle" font-size="12" fill="#9a9a9a">5月</text>
<text x="131.1" y="754.5" text-anchor="middle" font-size="12" fill="#9a9a9a">7月</text>
<text x="204.3" y="754.5" text-anchor="middle" font-size="12" fill="#9a9a9a">9月</text>
<text x="277.5" y="754.5" text-anchor="middle" font-size="12" fill="#9a9a9a">11月</text>
<text x="342.6" y="754.5" text-anchor="middle" font-size="12" fill="#8f8f8f" font-weight="bold">2023</text>
<text x="415.8" y="754.5" text-anchor="middle" font-size="12" fill="#9a9a9a">3月</text>
<text x="480.8" y="754.5" text-anchor="middle" font-size="12" fill="#9a9a9a">5月</text>
<text x="554.0" y="754.5" text-anchor="middle" font-size="12" fill="#9a9a9a">7月</text>
<text x="627.2" y="754.5" text-anchor="middle" font-size="12" fill="#9a9a9a">9月</text>
<text x="700.4" y="754.5" text-anchor="middle" font-size="12" fill="#9a9a9a">11月</text>
<text x="765.5" y="754.5" text-anchor="middle" font-size="12" fill="#8f8f8f" font-weight="bold">2024</text>
<text x="838.7" y="754.5" text-anchor="middle" font-size="12" fill="#9a9a9a">3月</text>
<text x="911.9" y="754.5" text-anchor="middle" font-size="12" fill="#9a9a9a">5月</text>
<text x="977.0" y="754.5" text-anchor="middle" font-size="12" fill="#9a9a9a">7月</text>
<text x="1050.2" y="754.5" text-anchor="middle" font-size="12" fill="#9a9a9a">9月</text>
<text x="1123.4" y="754.5" text-anchor="middle" font-size="12" fill="#9a9a9a">11月</text>
<text x="1196.6" y="754.5" text-anchor="middle" font-size="12" fill="#8f8f8f" font-weight="bold">2025</text>
<text x="1261.6" y="754.5" text-anchor="middle" font-size="12" fill="#9a9a9a">3月</text>
<text x="1334.8" y="754.5" text-anchor="middle" font-size="12" fill="#9a9a9a">5月</text>
<text x="1408.0" y="754.5" text-anchor="middle" font-size="12" fill="#9a9a9a">7月</text>
<text x="1473.1" y="754.5" text-anchor="middle" font-size="12" fill="#9a9a9a">9月</text>
<text x="1546.3" y="754.5" text-anchor="middle" font-size="12" fill="#9a9a9a">11月</text>
<text x="1619.5" y="754.5" text-anchor="middle" font-size="12" fill="#8f8f8f" font-weight="bold">2026</text>
<text x="1680.5" y="754.5" text-anchor="middle" font-size="12.5" fill="#999">筹</text>
<text x="1702.5" y="754.5" text-anchor="middle" font-size="12.5" fill="#999">爆</text>
</svg>
<span style="left:-8.5px;top:0.5px;color:#9a9a9a;">丁</span>
<span style="left:8.2px;top:0.5px;color:#808080;">2025-09-29 08:00</span>
<span style="left:107.0px;top:0.5px;color:#808080;">开</span>
<span style="left:122.2px;top:0.5px;color:#3db38d;">112163.96</span>
<span style="left:185.1px;top:0.5px;color:#808080;">高</span>
<span style="left:199.9px;top:0.5px;color:#3db38d;">121022.07</span>
<span style="left:263.0px;top:0.5px;color:#808080;">低</span>
<span style="left:278.0px;top:0.5px;color:#3db38d;">111560.65</span>
<span style="left:340.8px;top:0.5px;color:#808080;">收</span>
<span style="left:355.9px;top:0.5px;color:#3db38d;">120585.92</span>
<span style="left:419.0px;top:0.5px;color:#808080;">涨幅</span>
<span style="left:445.3px;top:0.5px;color:#3db38d;">7.51%(8421.97)</span>
<span style="left:535.4px;top:0.5px;color:#808080;">振幅</span>
<span style="left:562.8px;top:0.5px;color:#3db38d;">8.44%</span>
<span style="left:-2.7px;top:19.0px;color:#9a9a9a;">0,2)</span>
<span style="left:28.0px;top:19.0px;color:#3fc6a3;">BOLL:112365.12</span>
<span style="left:122.0px;top:19.0px;color:#f4ad2f;">UB:123338.47</span>
<span style="left:203.4px;top:19.0px;color:#e05ebd;">LB:101391.77</span>
<span style="left:0.0px;top:37.0px;color:#c2c2c2;">MA(7):115212.49</span>
<span style="left:99.9px;top:37.0px;color:#eedf3a;">EMA(10):114416.29</span>
<span style="left:212.8px;top:37.0px;color:#e052bb;">EMA(15):112751.03</span>
<span style="left:325.4px;top:37.0px;color:#3b9fe0;">EMA(30):106775.75</span>
<span style="left:438.3px;top:37.0px;color:#b2d88a;">EMA(60):95070.92</span>
<span style="left:544.2px;top:37.0px;color:#f29a9a;">EMA(80):88326.21</span>
<span style="left:650.6px;top:37.0px;color:#1fd0de;">EMA(120):77626.57</span>
<span style="left:763.2px;top:37.0px;color:#e57c1c;">EMA(160):69658.08</span>
<span style="left:876.0px;top:37.0px;color:#b38cf0;">EMA(200):63039.65</span>
<span style="left:989.0px;top:37.0px;color:#777777;">EMA(250):55973.23</span>
<span style="left:-7.7px;top:429.0px;color:#9a9a9a;">3,3)</span>
<span style="left:21.0px;top:429.0px;color:#48c9b0;">K:51.95</span>
<span style="left:67.5px;top:429.0px;color:#f2b23a;">D:48.71</span>
<span style="left:114.0px;top:429.0px;color:#d94fba;">J:58.45</span>
<span style="left:-4.5px;top:530.0px;color:#9a9a9a;">2,24)</span>
<span style="left:29.8px;top:530.0px;color:#48c9b0;">RSI1:65.85</span>
<span style="left:92.9px;top:530.0px;color:#f2b23a;">RSI2:62.70</span>
<span style="left:156.6px;top:530.0px;color:#d94fba;">RSI3:61.73</span>
<span style="left:-4.5px;top:629.0px;color:#9a9a9a;">12,26,9)</span>
<span style="left:45.9px;top:629.0px;color:#48c9b0;">DIF:5392.55</span>
<span style="left:116.0px;top:629.0px;color:#f2b23a;">DEA:5959.34</span>
<span style="left:191.0px;top:629.0px;color:#e0505c;">MACD:-1133.58</span>
<div class="bar" style="left:0;top:764px;width:1711px;height:1px;background:#efefef"></div>
<div class="bar" style="left:13px;top:765px;width:1px;height:28px;background:#e6e6e6"></div>
<div class="bar" style="left:115px;top:765px;width:1px;height:28px;background:#e6e6e6"></div>
<div class="bar" style="left:553px;top:765px;width:1px;height:28px;background:#e6e6e6"></div>
<div class="bar" style="left:298px;top:794px;width:34px;height:30px;background:#eef2fb"></div>
<span style="left:305px;top:802px;color:#5b7fe0;font-size:13px">周K</span>
<svg style="position:absolute;left:375px;top:803px" width="12" height="12"><path d="M1.5,1.5 L10.5,10.5 M10.5,1.5 L1.5,10.5" stroke="#666" stroke-width="1.3"/></svg>
<span style="left:34.3px;top:773.5px;color:#1f2329;font-size:13px;font-weight:bold;font-size:12.5px;">日期范围</span>
<svg style="position:absolute;left:89px;top:776px" width="8" height="6"><path d="M1,1 L4,4 L7,1" stroke="#333" stroke-width="1.3" fill="none"/></svg>
<span style="left:136.0px;top:773.5px;color:#8c8c8c;font-size:13px;">MA</span>
<span style="left:184.0px;top:773.5px;color:#4a74d6;font-size:13px;">EMA</span>
<span style="left:240.0px;top:773.5px;color:#4a74d6;font-size:13px;">BOLL</span>
<span style="left:300.7px;top:773.5px;color:#8c8c8c;font-size:13px;">TD</span>
<span style="left:346.0px;top:773.5px;color:#8c8c8c;font-size:13px;">BBI</span>
<span style="left:394.7px;top:773.5px;color:#8c8c8c;font-size:13px;">主力大单跟踪</span>
<span style="left:573.5px;top:773.5px;color:#8c8c8c;font-size:13px;">Volume</span>
<span style="left:645.8px;top:773.5px;color:#8c8c8c;font-size:13px;">Position</span>
<span style="left:721.0px;top:773.5px;color:#4a74d6;font-size:13px;">MACD</span>
<span style="left:786.0px;top:773.5px;color:#4a74d6;font-size:13px;">RSI</span>
<span style="left:833.5px;top:773.5px;color:#4a74d6;font-size:13px;">KDJ</span>
<span style="left:884.4px;top:773.5px;color:#8c8c8c;font-size:13px;">爆仓统计</span>
<span style="left:965.0px;top:773.5px;color:#8c8c8c;font-size:13px;">LSUR</span>
<span style="left:1025.8px;top:773.5px;color:#8c8c8c;font-size:13px;">FR</span>
<span style="left:1069.3px;top:773.5px;color:#8c8c8c;font-size:13px;">Fundflow</span>
<span style="left:1152.0px;top:773.5px;color:#8c8c8c;font-size:13px;">TTMU</span>
<span style="left:1215.6px;top:773.5px;color:#8c8c8c;font-size:13px;">TTSI</span>
<span style="left:1270.0px;top:773.5px;color:#8c8c8c;font-size:13px;">MLR</span>
<span style="left:1325.4px;top:773.5px;color:#8c8c8c;font-size:13px;">BSV</span>
<span style="left:1377.3px;top:773.5px;color:#8c8c8c;font-size:13px;">TVolume</span>
<span style="left:1558.4px;top:773.5px;color:#8a8a8a;font-size:13px;font-weight:bold;">社区指标</span>
<span style="left:1626.0px;top:773.5px;color:#8c8c8c;font-size:13px;">对数</span>
<span style="left:1662.6px;top:773.5px;color:#8c8c8c;font-size:13px;">%</span>
<span style="left:1682.5px;top:773.5px;color:#4a74d6;font-size:13px;">自动</span>
<svg style="position:absolute;left:493px;top:775px" width="6" height="10"><path d="M1,1 L5,5 L1,9" stroke="#999" stroke-width="1.1" fill="none"/></svg>
<svg style="position:absolute;left:1450px;top:775px" width="6" height="10"><path d="M1,1 L5,5 L1,9" stroke="#999" stroke-width="1.1" fill="none"/></svg>
<svg style="position:absolute;left:1537px;top:773px" width="13" height="13"><path d="M6.5,2 H1.5 V11.5 H11 V6.5 M5.5,8 L11.5,2" stroke="#b0b0b0" stroke-width="1.2" fill="none"/></svg>
<span style="left:-8.5px;top:802.0px;color:#2b2f36;font-size:13px;">分</span>
<span style="left:18.7px;top:802.0px;color:#2b2f36;font-size:13px;">15分</span>
<span style="left:57.0px;top:802.0px;color:#2b2f36;font-size:13px;">30分</span>
<span style="left:96.5px;top:802.0px;color:#2b2f36;font-size:13px;">45分</span>
<span style="left:136.5px;top:802.0px;color:#2b2f36;font-size:13px;">分时</span>
<span style="left:175.5px;top:802.0px;color:#2b2f36;font-size:13px;">1时</span>
<span style="left:207.0px;top:802.0px;color:#2b2f36;font-size:13px;">4时</span>
<span style="left:240.0px;top:802.0px;color:#2b2f36;font-size:13px;">1日</span>
<span style="left:272.0px;top:802.0px;color:#2b2f36;font-size:13px;">2日</span>
<span style="left:339.0px;top:802.0px;color:#2b2f36;font-size:13px;">月K</span>
<div class="bar" style="left:0;top:824px;width:1711px;height:3px;background:#f1f2f4"></div>
<div class="bar" style="left:794px;top:820px;width:38px;height:7px;background:#e1e2e4"></div>
<svg style="position:absolute;left:808px;top:821px" width="10" height="6"><path d="M1,5 L5,1 L9,5 Z" fill="#858585"/></svg>
</body></html>
